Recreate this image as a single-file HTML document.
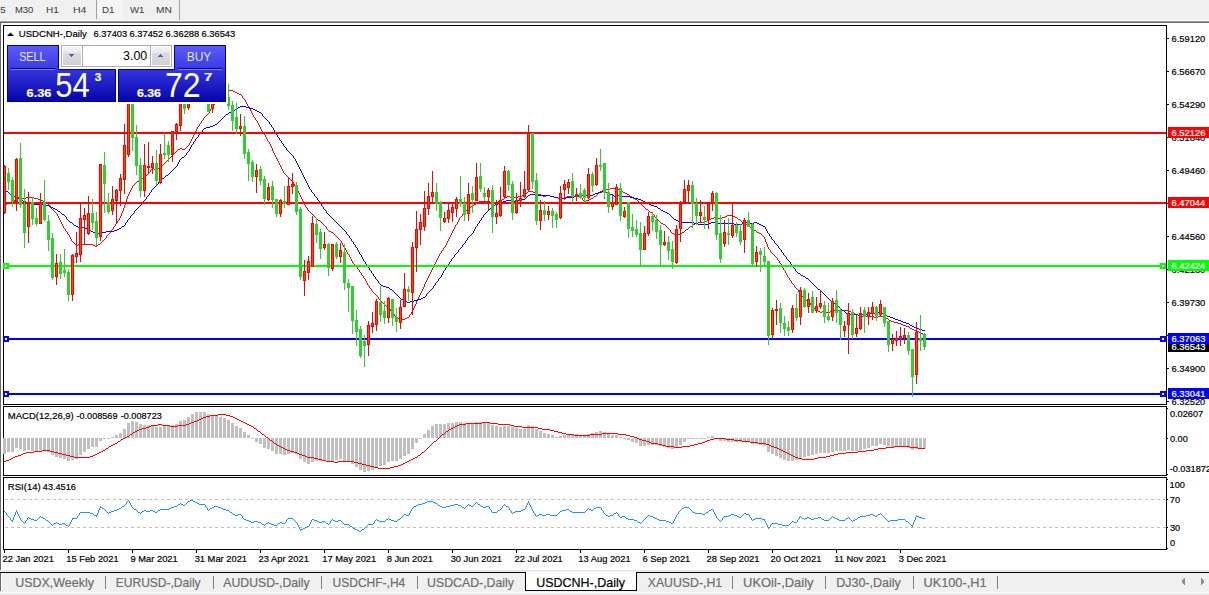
<!DOCTYPE html>
<html><head><meta charset="utf-8"><style>
html,body{margin:0;padding:0;width:1209px;height:595px;overflow:hidden;background:#f0f0f0}
svg{display:block}
text{font-family:"Liberation Sans", sans-serif;white-space:pre}
</style></head><body>
<svg width="1209" height="595" viewBox="0 0 1209 595">
<rect x="0" y="0" width="1209" height="595" fill="#f0f0f0"/>
<rect x="0" y="20" width="1209" height="1" fill="#f7f7f7"/>
<rect x="0" y="21" width="1209" height="1" fill="#a0a0a0"/>
<rect x="0" y="22" width="1209" height="1" fill="#696969"/>
<rect x="1" y="23" width="1208" height="547" fill="#ffffff"/>
<rect x="0" y="22" width="1" height="548" fill="#696969"/>
<rect x="97" y="0" width="25" height="19" fill="url(#chk)"/>
<rect x="96" y="0" width="1" height="19" fill="#a0a0a0"/>
<rect x="179" y="0" width="1" height="20" fill="#a0a0a0"/>
<text transform="translate(0.32,13) scale(0.9680,1)" font-size="9.9px" fill="#383838">5</text>
<text transform="translate(14.94,13) scale(0.9604,1)" font-size="9.9px" fill="#383838">M30</text>
<text transform="translate(45.89,13) scale(1.0189,1)" font-size="9.9px" fill="#383838">H1</text>
<text transform="translate(72.96,13) scale(1.0619,1)" font-size="9.9px" fill="#383838">H4</text>
<text transform="translate(101.91,13) scale(0.9925,1)" font-size="9.9px" fill="#383838">D1</text>
<text transform="translate(130.00,13) scale(0.9753,1)" font-size="9.9px" fill="#383838">W1</text>
<text transform="translate(155.98,13) scale(1.0319,1)" font-size="9.9px" fill="#383838">MN</text>
<rect x="3" y="25" width="1164" height="1" fill="#000"/>
<rect x="3" y="404" width="1164" height="1" fill="#000"/>
<rect x="3" y="25" width="1" height="380" fill="#000"/>
<rect x="1166" y="25" width="1" height="380" fill="#000"/>
<rect x="3" y="406" width="1164" height="1" fill="#000"/>
<rect x="3" y="475" width="1164" height="1" fill="#000"/>
<rect x="3" y="406" width="1" height="70" fill="#000"/>
<rect x="1166" y="406" width="1" height="70" fill="#000"/>
<rect x="3" y="477" width="1164" height="1" fill="#000"/>
<rect x="3" y="549" width="1164" height="1" fill="#000"/>
<rect x="3" y="477" width="1" height="73" fill="#000"/>
<rect x="1166" y="477" width="1" height="73" fill="#000"/>
<path d="M227 90h6v1h-6zM225 91h2v1h-2zM233 91h2v1h-2zM224 92h1v1h-1zM235 92h2v1h-2zM223 93h1v1h-1zM237 93h2v1h-2zM222 94h1v1h-1zM239 94h2v1h-2zM221 95h1v1h-1zM241 95h1v1h-1zM220 96h1v1h-1zM242 96h1v1h-1zM219 97h1v1h-1zM242 97h1v1h-1zM218 98h1v1h-1zM243 98h1v1h-1zM218 99h1v1h-1zM244 99h1v1h-1zM217 100h1v1h-1zM245 100h1v1h-1zM216 101h1v1h-1zM245 101h1v1h-1zM215 102h1v1h-1zM246 102h1v1h-1zM214 103h1v1h-1zM246 103h1v1h-1zM214 104h1v1h-1zM247 104h1v1h-1zM213 105h1v1h-1zM247 105h1v1h-1zM212 106h1v1h-1zM248 106h1v1h-1zM211 107h1v1h-1zM249 107h1v1h-1zM211 108h1v1h-1zM249 108h1v1h-1zM210 109h1v1h-1zM250 109h1v1h-1zM210 110h1v1h-1zM250 110h1v1h-1zM209 111h1v1h-1zM251 111h1v1h-1zM209 112h1v1h-1zM251 112h1v1h-1zM208 113h1v1h-1zM252 113h1v1h-1zM207 114h1v1h-1zM252 114h1v1h-1zM206 115h1v1h-1zM253 115h1v1h-1zM205 116h1v1h-1zM253 116h1v1h-1zM204 117h1v1h-1zM254 117h1v1h-1zM203 118h1v1h-1zM255 118h1v1h-1zM203 119h1v1h-1zM255 119h1v1h-1zM202 120h1v1h-1zM256 120h1v1h-1zM201 121h1v1h-1zM257 121h1v1h-1zM201 122h1v1h-1zM257 122h1v1h-1zM200 123h1v1h-1zM258 123h1v1h-1zM199 124h1v1h-1zM258 124h1v1h-1zM199 125h1v1h-1zM259 125h1v1h-1zM198 126h1v1h-1zM259 126h1v1h-1zM197 127h1v1h-1zM260 127h1v1h-1zM197 128h1v1h-1zM260 128h1v1h-1zM196 129h1v1h-1zM261 129h1v1h-1zM196 130h1v1h-1zM261 130h1v1h-1zM195 131h1v1h-1zM262 131h1v1h-1zM195 132h1v1h-1zM263 132h1v1h-1zM194 133h1v1h-1zM263 133h1v1h-1zM194 134h1v1h-1zM264 134h1v1h-1zM193 135h1v1h-1zM265 135h1v1h-1zM193 136h1v1h-1zM265 136h1v1h-1zM192 137h1v1h-1zM266 137h1v1h-1zM192 138h1v1h-1zM266 138h1v1h-1zM191 139h1v1h-1zM267 139h1v1h-1zM191 140h1v1h-1zM267 140h1v1h-1zM190 141h1v1h-1zM268 141h1v1h-1zM190 142h1v1h-1zM269 142h1v1h-1zM189 143h1v1h-1zM269 143h1v1h-1zM189 144h1v1h-1zM270 144h1v1h-1zM188 145h1v1h-1zM270 145h1v1h-1zM187 146h1v1h-1zM271 146h1v1h-1zM186 147h1v1h-1zM271 147h1v1h-1zM180 148h2v1h-2zM185 148h1v1h-1zM272 148h1v1h-1zM178 149h2v1h-2zM182 149h3v1h-3zM272 149h1v1h-1zM177 150h1v1h-1zM272 150h1v1h-1zM176 151h1v1h-1zM273 151h1v1h-1zM175 152h1v1h-1zM273 152h1v1h-1zM174 153h1v1h-1zM274 153h1v1h-1zM173 154h1v1h-1zM274 154h1v1h-1zM172 155h1v1h-1zM275 155h1v1h-1zM171 156h1v1h-1zM275 156h1v1h-1zM170 157h1v1h-1zM276 157h1v1h-1zM169 158h1v1h-1zM276 158h1v1h-1zM168 159h1v1h-1zM277 159h1v1h-1zM167 160h1v1h-1zM277 160h1v1h-1zM166 161h1v1h-1zM278 161h1v1h-1zM165 162h1v1h-1zM278 162h1v1h-1zM164 163h1v1h-1zM279 163h1v1h-1zM163 164h1v1h-1zM279 164h1v1h-1zM162 165h1v1h-1zM280 165h1v1h-1zM161 166h1v1h-1zM280 166h1v1h-1zM159 167h2v1h-2zM281 167h1v1h-1zM152 168h2v1h-2zM157 168h2v1h-2zM281 168h1v1h-1zM151 169h1v1h-1zM154 169h3v1h-3zM282 169h1v1h-1zM150 170h1v1h-1zM282 170h1v1h-1zM150 171h1v1h-1zM283 171h1v1h-1zM149 172h1v1h-1zM283 172h1v1h-1zM148 173h1v1h-1zM284 173h1v1h-1zM147 174h1v1h-1zM285 174h1v1h-1zM146 175h1v1h-1zM286 175h1v1h-1zM145 176h1v1h-1zM287 176h1v1h-1zM144 177h1v1h-1zM288 177h1v1h-1zM142 178h2v1h-2zM289 178h1v1h-1zM141 179h1v1h-1zM290 179h1v1h-1zM139 180h2v1h-2zM291 180h1v1h-1zM137 181h2v1h-2zM292 181h1v1h-1zM136 182h1v1h-1zM293 182h1v1h-1zM135 183h1v1h-1zM293 183h1v1h-1zM134 184h1v1h-1zM294 184h1v1h-1zM133 185h1v1h-1zM294 185h1v1h-1zM132 186h1v1h-1zM295 186h1v1h-1zM132 187h1v1h-1zM295 187h1v1h-1zM131 188h1v1h-1zM296 188h1v1h-1zM610 188h7v1h-7zM131 189h1v1h-1zM297 189h1v1h-1zM606 189h4v1h-4zM617 189h2v1h-2zM130 190h1v1h-1zM297 190h1v1h-1zM602 190h4v1h-4zM619 190h2v1h-2zM130 191h1v1h-1zM298 191h1v1h-1zM528 191h5v1h-5zM600 191h2v1h-2zM621 191h2v1h-2zM129 192h1v1h-1zM298 192h1v1h-1zM527 192h1v1h-1zM533 192h2v1h-2zM599 192h1v1h-1zM623 192h2v1h-2zM129 193h1v1h-1zM299 193h1v1h-1zM526 193h1v1h-1zM535 193h3v1h-3zM598 193h1v1h-1zM625 193h2v1h-2zM128 194h1v1h-1zM299 194h1v1h-1zM525 194h1v1h-1zM538 194h3v1h-3zM597 194h1v1h-1zM627 194h2v1h-2zM128 195h1v1h-1zM300 195h1v1h-1zM522 195h3v1h-3zM541 195h2v1h-2zM546 195h4v1h-4zM596 195h1v1h-1zM629 195h1v1h-1zM127 196h1v1h-1zM300 196h1v1h-1zM507 196h3v1h-3zM518 196h4v1h-4zM543 196h3v1h-3zM550 196h4v1h-4zM567 196h14v1h-14zM594 196h2v1h-2zM630 196h2v1h-2zM18 197h4v1h-4zM26 197h8v1h-8zM127 197h1v1h-1zM301 197h1v1h-1zM505 197h2v1h-2zM510 197h8v1h-8zM554 197h4v1h-4zM565 197h2v1h-2zM581 197h1v1h-1zM593 197h1v1h-1zM632 197h1v1h-1zM16 198h2v1h-2zM22 198h4v1h-4zM34 198h4v1h-4zM127 198h1v1h-1zM301 198h1v1h-1zM504 198h1v1h-1zM558 198h7v1h-7zM582 198h1v1h-1zM591 198h2v1h-2zM633 198h2v1h-2zM15 199h1v1h-1zM38 199h3v1h-3zM126 199h1v1h-1zM302 199h1v1h-1zM502 199h2v1h-2zM582 199h1v1h-1zM589 199h2v1h-2zM635 199h2v1h-2zM14 200h1v1h-1zM41 200h2v1h-2zM126 200h1v1h-1zM302 200h1v1h-1zM501 200h1v1h-1zM583 200h1v1h-1zM586 200h3v1h-3zM637 200h1v1h-1zM14 201h1v1h-1zM43 201h2v1h-2zM126 201h1v1h-1zM303 201h1v1h-1zM479 201h11v1h-11zM498 201h3v1h-3zM584 201h2v1h-2zM638 201h1v1h-1zM13 202h1v1h-1zM45 202h1v1h-1zM125 202h1v1h-1zM303 202h1v1h-1zM477 202h2v1h-2zM490 202h8v1h-8zM639 202h1v1h-1zM7 203h6v1h-6zM46 203h2v1h-2zM125 203h1v1h-1zM304 203h1v1h-1zM476 203h1v1h-1zM640 203h1v1h-1zM5 204h2v1h-2zM48 204h1v1h-1zM125 204h1v1h-1zM304 204h1v1h-1zM474 204h2v1h-2zM641 204h1v1h-1zM4 205h1v1h-1zM49 205h1v1h-1zM124 205h1v1h-1zM305 205h1v1h-1zM473 205h1v1h-1zM642 205h1v1h-1zM50 206h1v1h-1zM124 206h1v1h-1zM305 206h1v1h-1zM471 206h2v1h-2zM643 206h1v1h-1zM50 207h1v1h-1zM124 207h1v1h-1zM306 207h1v1h-1zM469 207h2v1h-2zM644 207h1v1h-1zM51 208h1v1h-1zM123 208h1v1h-1zM307 208h1v1h-1zM468 208h1v1h-1zM645 208h1v1h-1zM52 209h1v1h-1zM123 209h1v1h-1zM307 209h1v1h-1zM467 209h1v1h-1zM646 209h2v1h-2zM53 210h1v1h-1zM123 210h1v1h-1zM308 210h1v1h-1zM466 210h1v1h-1zM648 210h1v1h-1zM54 211h1v1h-1zM122 211h1v1h-1zM309 211h1v1h-1zM465 211h1v1h-1zM649 211h1v1h-1zM55 212h1v1h-1zM122 212h1v1h-1zM310 212h1v1h-1zM464 212h1v1h-1zM650 212h2v1h-2zM56 213h1v1h-1zM121 213h1v1h-1zM311 213h1v1h-1zM463 213h1v1h-1zM652 213h1v1h-1zM57 214h1v1h-1zM121 214h1v1h-1zM312 214h1v1h-1zM462 214h1v1h-1zM653 214h1v1h-1zM57 215h1v1h-1zM121 215h1v1h-1zM313 215h1v1h-1zM462 215h1v1h-1zM654 215h1v1h-1zM727 215h6v1h-6zM58 216h1v1h-1zM120 216h1v1h-1zM314 216h1v1h-1zM461 216h1v1h-1zM654 216h1v1h-1zM725 216h2v1h-2zM733 216h2v1h-2zM58 217h1v1h-1zM120 217h1v1h-1zM315 217h1v1h-1zM460 217h1v1h-1zM655 217h1v1h-1zM714 217h4v1h-4zM722 217h3v1h-3zM735 217h2v1h-2zM59 218h1v1h-1zM119 218h1v1h-1zM316 218h1v1h-1zM459 218h1v1h-1zM656 218h1v1h-1zM711 218h3v1h-3zM718 218h4v1h-4zM737 218h1v1h-1zM59 219h1v1h-1zM119 219h1v1h-1zM317 219h1v1h-1zM459 219h1v1h-1zM657 219h1v1h-1zM709 219h2v1h-2zM738 219h2v1h-2zM60 220h1v1h-1zM118 220h1v1h-1zM318 220h2v1h-2zM458 220h1v1h-1zM658 220h1v1h-1zM707 220h2v1h-2zM740 220h1v1h-1zM60 221h1v1h-1zM117 221h1v1h-1zM320 221h1v1h-1zM458 221h1v1h-1zM659 221h1v1h-1zM705 221h2v1h-2zM741 221h1v1h-1zM61 222h1v1h-1zM117 222h1v1h-1zM321 222h1v1h-1zM457 222h1v1h-1zM660 222h1v1h-1zM698 222h7v1h-7zM742 222h2v1h-2zM61 223h1v1h-1zM116 223h1v1h-1zM322 223h1v1h-1zM457 223h1v1h-1zM661 223h2v1h-2zM695 223h3v1h-3zM744 223h1v1h-1zM62 224h1v1h-1zM115 224h1v1h-1zM323 224h1v1h-1zM456 224h1v1h-1zM663 224h2v1h-2zM693 224h2v1h-2zM745 224h2v1h-2zM62 225h1v1h-1zM115 225h1v1h-1zM324 225h1v1h-1zM455 225h1v1h-1zM665 225h1v1h-1zM692 225h1v1h-1zM747 225h2v1h-2zM63 226h1v1h-1zM114 226h1v1h-1zM325 226h1v1h-1zM455 226h1v1h-1zM666 226h1v1h-1zM690 226h2v1h-2zM749 226h1v1h-1zM63 227h1v1h-1zM113 227h1v1h-1zM326 227h1v1h-1zM454 227h1v1h-1zM667 227h1v1h-1zM689 227h1v1h-1zM750 227h2v1h-2zM64 228h1v1h-1zM113 228h1v1h-1zM326 228h1v1h-1zM454 228h1v1h-1zM668 228h1v1h-1zM688 228h1v1h-1zM752 228h1v1h-1zM65 229h1v1h-1zM112 229h1v1h-1zM327 229h1v1h-1zM453 229h1v1h-1zM669 229h1v1h-1zM686 229h2v1h-2zM753 229h1v1h-1zM65 230h1v1h-1zM111 230h1v1h-1zM328 230h1v1h-1zM453 230h1v1h-1zM670 230h1v1h-1zM685 230h1v1h-1zM754 230h2v1h-2zM66 231h1v1h-1zM110 231h1v1h-1zM329 231h2v1h-2zM452 231h1v1h-1zM670 231h1v1h-1zM684 231h1v1h-1zM756 231h1v1h-1zM67 232h1v1h-1zM110 232h1v1h-1zM331 232h2v1h-2zM452 232h1v1h-1zM671 232h1v1h-1zM682 232h2v1h-2zM757 232h2v1h-2zM67 233h1v1h-1zM109 233h1v1h-1zM333 233h1v1h-1zM451 233h1v1h-1zM672 233h2v1h-2zM681 233h1v1h-1zM759 233h2v1h-2zM68 234h1v1h-1zM108 234h1v1h-1zM334 234h1v1h-1zM451 234h1v1h-1zM674 234h7v1h-7zM761 234h1v1h-1zM69 235h1v1h-1zM107 235h1v1h-1zM335 235h1v1h-1zM450 235h1v1h-1zM762 235h1v1h-1zM69 236h1v1h-1zM106 236h1v1h-1zM336 236h1v1h-1zM450 236h1v1h-1zM763 236h1v1h-1zM70 237h1v1h-1zM106 237h1v1h-1zM337 237h1v1h-1zM449 237h1v1h-1zM764 237h1v1h-1zM70 238h1v1h-1zM105 238h1v1h-1zM338 238h1v1h-1zM449 238h1v1h-1zM764 238h1v1h-1zM71 239h1v1h-1zM104 239h1v1h-1zM339 239h1v1h-1zM448 239h1v1h-1zM765 239h1v1h-1zM71 240h1v1h-1zM103 240h1v1h-1zM340 240h1v1h-1zM448 240h1v1h-1zM765 240h1v1h-1zM72 241h1v1h-1zM102 241h1v1h-1zM341 241h1v1h-1zM447 241h1v1h-1zM765 241h1v1h-1zM73 242h1v1h-1zM101 242h1v1h-1zM341 242h1v1h-1zM447 242h1v1h-1zM766 242h1v1h-1zM74 243h1v1h-1zM100 243h1v1h-1zM342 243h1v1h-1zM446 243h1v1h-1zM766 243h1v1h-1zM75 244h1v1h-1zM78 244h15v1h-15zM98 244h2v1h-2zM342 244h1v1h-1zM446 244h1v1h-1zM767 244h1v1h-1zM76 245h2v1h-2zM93 245h2v1h-2zM97 245h1v1h-1zM343 245h1v1h-1zM445 245h1v1h-1zM767 245h1v1h-1zM95 246h2v1h-2zM343 246h1v1h-1zM445 246h1v1h-1zM767 246h1v1h-1zM344 247h1v1h-1zM444 247h1v1h-1zM768 247h1v1h-1zM345 248h1v1h-1zM443 248h1v1h-1zM768 248h1v1h-1zM345 249h1v1h-1zM443 249h1v1h-1zM769 249h1v1h-1zM346 250h1v1h-1zM442 250h1v1h-1zM770 250h1v1h-1zM346 251h1v1h-1zM441 251h1v1h-1zM770 251h1v1h-1zM347 252h1v1h-1zM441 252h1v1h-1zM771 252h1v1h-1zM347 253h1v1h-1zM440 253h1v1h-1zM772 253h1v1h-1zM348 254h1v1h-1zM439 254h1v1h-1zM773 254h1v1h-1zM349 255h1v1h-1zM439 255h1v1h-1zM774 255h1v1h-1zM349 256h1v1h-1zM438 256h1v1h-1zM775 256h1v1h-1zM350 257h1v1h-1zM438 257h1v1h-1zM776 257h1v1h-1zM350 258h1v1h-1zM437 258h1v1h-1zM777 258h1v1h-1zM351 259h1v1h-1zM437 259h1v1h-1zM777 259h1v1h-1zM351 260h1v1h-1zM436 260h1v1h-1zM778 260h1v1h-1zM352 261h1v1h-1zM436 261h1v1h-1zM779 261h1v1h-1zM352 262h1v1h-1zM435 262h1v1h-1zM779 262h1v1h-1zM353 263h1v1h-1zM435 263h1v1h-1zM780 263h1v1h-1zM354 264h1v1h-1zM434 264h1v1h-1zM781 264h1v1h-1zM355 265h1v1h-1zM434 265h1v1h-1zM781 265h1v1h-1zM356 266h1v1h-1zM433 266h1v1h-1zM782 266h1v1h-1zM357 267h1v1h-1zM433 267h1v1h-1zM782 267h1v1h-1zM357 268h1v1h-1zM432 268h1v1h-1zM783 268h1v1h-1zM358 269h1v1h-1zM432 269h1v1h-1zM783 269h1v1h-1zM359 270h1v1h-1zM431 270h1v1h-1zM784 270h1v1h-1zM359 271h1v1h-1zM431 271h1v1h-1zM785 271h1v1h-1zM360 272h1v1h-1zM430 272h1v1h-1zM785 272h1v1h-1zM361 273h1v1h-1zM430 273h1v1h-1zM786 273h1v1h-1zM361 274h1v1h-1zM429 274h1v1h-1zM786 274h1v1h-1zM362 275h1v1h-1zM429 275h1v1h-1zM787 275h1v1h-1zM363 276h1v1h-1zM428 276h1v1h-1zM787 276h1v1h-1zM363 277h1v1h-1zM428 277h1v1h-1zM788 277h1v1h-1zM364 278h1v1h-1zM427 278h1v1h-1zM789 278h1v1h-1zM365 279h1v1h-1zM427 279h1v1h-1zM789 279h1v1h-1zM365 280h1v1h-1zM426 280h1v1h-1zM790 280h1v1h-1zM366 281h1v1h-1zM426 281h1v1h-1zM791 281h1v1h-1zM366 282h1v1h-1zM425 282h1v1h-1zM791 282h1v1h-1zM367 283h1v1h-1zM425 283h1v1h-1zM792 283h1v1h-1zM367 284h1v1h-1zM424 284h1v1h-1zM793 284h1v1h-1zM368 285h1v1h-1zM424 285h1v1h-1zM794 285h1v1h-1zM369 286h1v1h-1zM424 286h1v1h-1zM794 286h1v1h-1zM369 287h1v1h-1zM423 287h1v1h-1zM795 287h1v1h-1zM370 288h1v1h-1zM423 288h1v1h-1zM796 288h1v1h-1zM371 289h1v1h-1zM422 289h1v1h-1zM797 289h1v1h-1zM371 290h1v1h-1zM422 290h1v1h-1zM798 290h1v1h-1zM372 291h1v1h-1zM421 291h1v1h-1zM798 291h1v1h-1zM373 292h1v1h-1zM421 292h1v1h-1zM799 292h1v1h-1zM374 293h1v1h-1zM420 293h1v1h-1zM800 293h1v1h-1zM375 294h1v1h-1zM420 294h1v1h-1zM801 294h1v1h-1zM376 295h1v1h-1zM419 295h1v1h-1zM801 295h1v1h-1zM377 296h1v1h-1zM419 296h1v1h-1zM802 296h1v1h-1zM378 297h1v1h-1zM418 297h1v1h-1zM803 297h1v1h-1zM378 298h1v1h-1zM418 298h1v1h-1zM803 298h1v1h-1zM379 299h1v1h-1zM417 299h1v1h-1zM804 299h1v1h-1zM380 300h1v1h-1zM417 300h1v1h-1zM805 300h2v1h-2zM381 301h1v1h-1zM416 301h1v1h-1zM807 301h2v1h-2zM382 302h1v1h-1zM416 302h1v1h-1zM809 302h1v1h-1zM383 303h1v1h-1zM416 303h1v1h-1zM810 303h1v1h-1zM384 304h1v1h-1zM415 304h1v1h-1zM810 304h1v1h-1zM385 305h1v1h-1zM415 305h1v1h-1zM811 305h1v1h-1zM386 306h2v1h-2zM414 306h1v1h-1zM812 306h1v1h-1zM388 307h1v1h-1zM414 307h1v1h-1zM813 307h1v1h-1zM389 308h1v1h-1zM413 308h1v1h-1zM814 308h2v1h-2zM390 309h1v1h-1zM413 309h1v1h-1zM816 309h1v1h-1zM390 310h1v1h-1zM412 310h1v1h-1zM817 310h1v1h-1zM834 310h15v1h-15zM391 311h1v1h-1zM412 311h1v1h-1zM818 311h2v1h-2zM822 311h4v1h-4zM830 311h4v1h-4zM849 311h2v1h-2zM392 312h1v1h-1zM411 312h1v1h-1zM820 312h2v1h-2zM826 312h4v1h-4zM851 312h2v1h-2zM393 313h1v1h-1zM411 313h1v1h-1zM853 313h2v1h-2zM394 314h1v1h-1zM410 314h1v1h-1zM855 314h3v1h-3zM394 315h1v1h-1zM409 315h1v1h-1zM858 315h4v1h-4zM395 316h1v1h-1zM409 316h1v1h-1zM862 316h12v1h-12zM878 316h7v1h-7zM396 317h1v1h-1zM407 317h2v1h-2zM874 317h4v1h-4zM885 317h1v1h-1zM397 318h2v1h-2zM405 318h2v1h-2zM886 318h2v1h-2zM399 319h6v1h-6zM888 319h1v1h-1zM889 320h2v1h-2zM891 321h3v1h-3zM894 322h4v1h-4zM898 323h3v1h-3zM901 324h2v1h-2zM903 325h3v1h-3zM906 326h3v1h-3zM909 327h1v1h-1zM910 328h2v1h-2zM912 329h2v1h-2zM914 330h3v1h-3zM917 331h2v1h-2zM919 332h2v1h-2zM921 333h2v1h-2zM923 334h2v1h-2z" fill="#ff0000" shape-rendering="crispEdges"/>
<path d="M240 106h6v1h-6zM238 107h2v1h-2zM246 107h4v1h-4zM237 108h1v1h-1zM250 108h3v1h-3zM235 109h2v1h-2zM253 109h2v1h-2zM233 110h2v1h-2zM255 110h2v1h-2zM231 111h2v1h-2zM257 111h2v1h-2zM229 112h2v1h-2zM259 112h2v1h-2zM228 113h1v1h-1zM261 113h1v1h-1zM226 114h2v1h-2zM262 114h1v1h-1zM225 115h1v1h-1zM262 115h1v1h-1zM224 116h1v1h-1zM263 116h1v1h-1zM223 117h1v1h-1zM264 117h1v1h-1zM222 118h1v1h-1zM265 118h1v1h-1zM221 119h1v1h-1zM266 119h1v1h-1zM220 120h1v1h-1zM267 120h1v1h-1zM219 121h1v1h-1zM268 121h1v1h-1zM218 122h1v1h-1zM269 122h1v1h-1zM217 123h1v1h-1zM269 123h1v1h-1zM215 124h2v1h-2zM270 124h1v1h-1zM213 125h2v1h-2zM271 125h1v1h-1zM210 126h3v1h-3zM271 126h1v1h-1zM206 127h4v1h-4zM272 127h1v1h-1zM204 128h2v1h-2zM273 128h1v1h-1zM203 129h1v1h-1zM273 129h1v1h-1zM202 130h1v1h-1zM274 130h1v1h-1zM202 131h1v1h-1zM274 131h1v1h-1zM201 132h1v1h-1zM275 132h1v1h-1zM200 133h1v1h-1zM275 133h1v1h-1zM199 134h1v1h-1zM276 134h1v1h-1zM198 135h1v1h-1zM277 135h1v1h-1zM198 136h1v1h-1zM277 136h1v1h-1zM197 137h1v1h-1zM278 137h1v1h-1zM196 138h1v1h-1zM279 138h1v1h-1zM195 139h1v1h-1zM279 139h1v1h-1zM195 140h1v1h-1zM280 140h1v1h-1zM194 141h1v1h-1zM281 141h1v1h-1zM193 142h1v1h-1zM281 142h1v1h-1zM193 143h1v1h-1zM282 143h1v1h-1zM192 144h1v1h-1zM283 144h1v1h-1zM191 145h1v1h-1zM283 145h1v1h-1zM191 146h1v1h-1zM284 146h1v1h-1zM190 147h1v1h-1zM285 147h1v1h-1zM190 148h1v1h-1zM286 148h1v1h-1zM189 149h1v1h-1zM286 149h1v1h-1zM189 150h1v1h-1zM287 150h1v1h-1zM188 151h1v1h-1zM288 151h1v1h-1zM187 152h1v1h-1zM289 152h1v1h-1zM186 153h1v1h-1zM290 153h1v1h-1zM186 154h1v1h-1zM291 154h1v1h-1zM185 155h1v1h-1zM292 155h1v1h-1zM184 156h1v1h-1zM293 156h1v1h-1zM182 157h2v1h-2zM293 157h1v1h-1zM181 158h1v1h-1zM294 158h1v1h-1zM180 159h1v1h-1zM295 159h1v1h-1zM179 160h1v1h-1zM295 160h1v1h-1zM179 161h1v1h-1zM296 161h1v1h-1zM178 162h1v1h-1zM296 162h1v1h-1zM178 163h1v1h-1zM297 163h1v1h-1zM177 164h1v1h-1zM297 164h1v1h-1zM177 165h1v1h-1zM298 165h1v1h-1zM176 166h1v1h-1zM298 166h1v1h-1zM175 167h1v1h-1zM299 167h1v1h-1zM174 168h1v1h-1zM299 168h1v1h-1zM173 169h1v1h-1zM300 169h1v1h-1zM172 170h1v1h-1zM300 170h1v1h-1zM171 171h1v1h-1zM301 171h1v1h-1zM170 172h1v1h-1zM301 172h1v1h-1zM169 173h1v1h-1zM302 173h1v1h-1zM168 174h1v1h-1zM302 174h1v1h-1zM166 175h2v1h-2zM303 175h1v1h-1zM165 176h1v1h-1zM303 176h1v1h-1zM164 177h1v1h-1zM304 177h1v1h-1zM162 178h2v1h-2zM304 178h1v1h-1zM161 179h1v1h-1zM305 179h1v1h-1zM160 180h1v1h-1zM305 180h1v1h-1zM159 181h1v1h-1zM306 181h1v1h-1zM158 182h1v1h-1zM306 182h1v1h-1zM158 183h1v1h-1zM307 183h1v1h-1zM157 184h1v1h-1zM307 184h1v1h-1zM156 185h1v1h-1zM308 185h1v1h-1zM155 186h1v1h-1zM308 186h1v1h-1zM154 187h1v1h-1zM309 187h1v1h-1zM153 188h1v1h-1zM309 188h1v1h-1zM4 189h1v1h-1zM152 189h1v1h-1zM310 189h1v1h-1zM5 190h1v1h-1zM151 190h1v1h-1zM311 190h1v1h-1zM6 191h2v1h-2zM151 191h1v1h-1zM311 191h1v1h-1zM602 191h4v1h-4zM8 192h1v1h-1zM150 192h1v1h-1zM312 192h1v1h-1zM598 192h4v1h-4zM606 192h3v1h-3zM9 193h1v1h-1zM149 193h1v1h-1zM313 193h1v1h-1zM595 193h3v1h-3zM609 193h1v1h-1zM10 194h1v1h-1zM149 194h1v1h-1zM314 194h1v1h-1zM530 194h8v1h-8zM593 194h2v1h-2zM610 194h2v1h-2zM11 195h1v1h-1zM148 195h1v1h-1zM314 195h1v1h-1zM528 195h2v1h-2zM538 195h12v1h-12zM578 195h15v1h-15zM612 195h2v1h-2zM618 195h4v1h-4zM12 196h5v1h-5zM147 196h1v1h-1zM315 196h1v1h-1zM527 196h1v1h-1zM550 196h4v1h-4zM574 196h4v1h-4zM614 196h4v1h-4zM622 196h8v1h-8zM17 197h1v1h-1zM146 197h1v1h-1zM316 197h1v1h-1zM526 197h1v1h-1zM554 197h4v1h-4zM566 197h8v1h-8zM630 197h4v1h-4zM18 198h2v1h-2zM146 198h1v1h-1zM317 198h1v1h-1zM525 198h1v1h-1zM558 198h8v1h-8zM634 198h4v1h-4zM20 199h1v1h-1zM145 199h1v1h-1zM317 199h1v1h-1zM522 199h3v1h-3zM638 199h3v1h-3zM21 200h2v1h-2zM144 200h1v1h-1zM318 200h1v1h-1zM506 200h8v1h-8zM518 200h4v1h-4zM641 200h2v1h-2zM23 201h3v1h-3zM143 201h1v1h-1zM319 201h1v1h-1zM503 201h3v1h-3zM514 201h4v1h-4zM643 201h2v1h-2zM26 202h4v1h-4zM142 202h1v1h-1zM319 202h1v1h-1zM501 202h2v1h-2zM645 202h2v1h-2zM30 203h4v1h-4zM142 203h1v1h-1zM320 203h1v1h-1zM498 203h3v1h-3zM647 203h2v1h-2zM34 204h12v1h-12zM141 204h1v1h-1zM321 204h1v1h-1zM495 204h3v1h-3zM649 204h2v1h-2zM46 205h3v1h-3zM140 205h1v1h-1zM321 205h1v1h-1zM493 205h2v1h-2zM651 205h3v1h-3zM49 206h2v1h-2zM139 206h1v1h-1zM322 206h1v1h-1zM492 206h1v1h-1zM654 206h3v1h-3zM51 207h2v1h-2zM138 207h1v1h-1zM323 207h1v1h-1zM491 207h1v1h-1zM657 207h1v1h-1zM53 208h2v1h-2zM137 208h1v1h-1zM323 208h1v1h-1zM490 208h1v1h-1zM658 208h2v1h-2zM55 209h2v1h-2zM136 209h1v1h-1zM324 209h1v1h-1zM489 209h1v1h-1zM660 209h1v1h-1zM57 210h1v1h-1zM135 210h1v1h-1zM325 210h1v1h-1zM488 210h1v1h-1zM661 210h2v1h-2zM58 211h2v1h-2zM134 211h1v1h-1zM326 211h1v1h-1zM487 211h1v1h-1zM663 211h2v1h-2zM60 212h1v1h-1zM134 212h1v1h-1zM326 212h1v1h-1zM486 212h1v1h-1zM665 212h2v1h-2zM61 213h1v1h-1zM133 213h1v1h-1zM327 213h1v1h-1zM485 213h1v1h-1zM667 213h2v1h-2zM62 214h2v1h-2zM132 214h1v1h-1zM328 214h1v1h-1zM484 214h1v1h-1zM669 214h1v1h-1zM64 215h1v1h-1zM131 215h1v1h-1zM329 215h1v1h-1zM483 215h1v1h-1zM670 215h1v1h-1zM65 216h1v1h-1zM130 216h1v1h-1zM330 216h1v1h-1zM483 216h1v1h-1zM671 216h1v1h-1zM66 217h1v1h-1zM130 217h1v1h-1zM331 217h1v1h-1zM482 217h1v1h-1zM672 217h1v1h-1zM66 218h1v1h-1zM129 218h1v1h-1zM332 218h1v1h-1zM481 218h1v1h-1zM673 218h1v1h-1zM67 219h1v1h-1zM128 219h1v1h-1zM333 219h1v1h-1zM481 219h1v1h-1zM674 219h2v1h-2zM68 220h1v1h-1zM127 220h1v1h-1zM334 220h1v1h-1zM480 220h1v1h-1zM676 220h2v1h-2zM69 221h1v1h-1zM127 221h1v1h-1zM335 221h1v1h-1zM479 221h1v1h-1zM678 221h4v1h-4zM70 222h2v1h-2zM126 222h1v1h-1zM336 222h1v1h-1zM479 222h1v1h-1zM682 222h12v1h-12zM711 222h7v1h-7zM746 222h4v1h-4zM754 222h3v1h-3zM72 223h1v1h-1zM125 223h1v1h-1zM337 223h1v1h-1zM478 223h1v1h-1zM694 223h4v1h-4zM709 223h2v1h-2zM718 223h16v1h-16zM742 223h4v1h-4zM750 223h4v1h-4zM757 223h2v1h-2zM73 224h1v1h-1zM125 224h1v1h-1zM338 224h1v1h-1zM477 224h1v1h-1zM698 224h11v1h-11zM734 224h8v1h-8zM759 224h2v1h-2zM74 225h2v1h-2zM124 225h1v1h-1zM339 225h1v1h-1zM477 225h1v1h-1zM761 225h2v1h-2zM76 226h2v1h-2zM122 226h2v1h-2zM340 226h1v1h-1zM476 226h1v1h-1zM763 226h2v1h-2zM78 227h7v1h-7zM121 227h1v1h-1zM341 227h1v1h-1zM475 227h1v1h-1zM765 227h1v1h-1zM85 228h2v1h-2zM119 228h2v1h-2zM342 228h1v1h-1zM475 228h1v1h-1zM765 228h1v1h-1zM87 229h2v1h-2zM117 229h2v1h-2zM343 229h1v1h-1zM474 229h1v1h-1zM766 229h1v1h-1zM89 230h2v1h-2zM114 230h3v1h-3zM344 230h1v1h-1zM474 230h1v1h-1zM766 230h1v1h-1zM91 231h2v1h-2zM106 231h8v1h-8zM345 231h1v1h-1zM473 231h1v1h-1zM767 231h1v1h-1zM93 232h2v1h-2zM102 232h4v1h-4zM346 232h1v1h-1zM473 232h1v1h-1zM767 232h1v1h-1zM95 233h7v1h-7zM346 233h1v1h-1zM472 233h1v1h-1zM768 233h1v1h-1zM347 234h1v1h-1zM471 234h1v1h-1zM769 234h1v1h-1zM348 235h1v1h-1zM470 235h1v1h-1zM769 235h1v1h-1zM349 236h1v1h-1zM469 236h1v1h-1zM770 236h1v1h-1zM349 237h1v1h-1zM468 237h1v1h-1zM771 237h1v1h-1zM350 238h1v1h-1zM467 238h1v1h-1zM771 238h1v1h-1zM351 239h1v1h-1zM467 239h1v1h-1zM772 239h1v1h-1zM351 240h1v1h-1zM466 240h1v1h-1zM773 240h1v1h-1zM352 241h1v1h-1zM465 241h1v1h-1zM774 241h1v1h-1zM353 242h1v1h-1zM465 242h1v1h-1zM774 242h1v1h-1zM353 243h1v1h-1zM464 243h1v1h-1zM775 243h1v1h-1zM354 244h1v1h-1zM463 244h1v1h-1zM776 244h1v1h-1zM355 245h1v1h-1zM462 245h1v1h-1zM777 245h1v1h-1zM355 246h1v1h-1zM462 246h1v1h-1zM778 246h1v1h-1zM356 247h1v1h-1zM461 247h1v1h-1zM778 247h1v1h-1zM357 248h1v1h-1zM460 248h1v1h-1zM779 248h1v1h-1zM357 249h1v1h-1zM459 249h1v1h-1zM780 249h1v1h-1zM358 250h1v1h-1zM458 250h1v1h-1zM781 250h1v1h-1zM358 251h1v1h-1zM458 251h1v1h-1zM781 251h1v1h-1zM359 252h1v1h-1zM457 252h1v1h-1zM782 252h1v1h-1zM359 253h1v1h-1zM456 253h1v1h-1zM783 253h1v1h-1zM360 254h1v1h-1zM455 254h1v1h-1zM783 254h1v1h-1zM361 255h1v1h-1zM454 255h1v1h-1zM784 255h1v1h-1zM361 256h1v1h-1zM454 256h1v1h-1zM785 256h1v1h-1zM362 257h1v1h-1zM453 257h1v1h-1zM786 257h1v1h-1zM362 258h1v1h-1zM452 258h1v1h-1zM786 258h1v1h-1zM363 259h1v1h-1zM451 259h1v1h-1zM787 259h1v1h-1zM363 260h1v1h-1zM451 260h1v1h-1zM788 260h1v1h-1zM364 261h1v1h-1zM450 261h1v1h-1zM789 261h1v1h-1zM365 262h1v1h-1zM449 262h1v1h-1zM790 262h1v1h-1zM365 263h1v1h-1zM449 263h1v1h-1zM790 263h1v1h-1zM366 264h1v1h-1zM448 264h1v1h-1zM791 264h1v1h-1zM367 265h1v1h-1zM447 265h1v1h-1zM792 265h1v1h-1zM367 266h1v1h-1zM447 266h1v1h-1zM793 266h1v1h-1zM368 267h1v1h-1zM446 267h1v1h-1zM793 267h1v1h-1zM369 268h1v1h-1zM445 268h1v1h-1zM794 268h1v1h-1zM369 269h1v1h-1zM445 269h1v1h-1zM795 269h1v1h-1zM370 270h1v1h-1zM444 270h1v1h-1zM795 270h1v1h-1zM371 271h1v1h-1zM443 271h1v1h-1zM796 271h1v1h-1zM371 272h1v1h-1zM443 272h1v1h-1zM797 272h1v1h-1zM372 273h1v1h-1zM442 273h1v1h-1zM798 273h2v1h-2zM373 274h1v1h-1zM442 274h1v1h-1zM800 274h1v1h-1zM373 275h1v1h-1zM441 275h1v1h-1zM801 275h2v1h-2zM374 276h1v1h-1zM441 276h1v1h-1zM803 276h2v1h-2zM375 277h1v1h-1zM440 277h1v1h-1zM805 277h1v1h-1zM375 278h1v1h-1zM439 278h1v1h-1zM806 278h2v1h-2zM376 279h1v1h-1zM438 279h1v1h-1zM808 279h1v1h-1zM377 280h1v1h-1zM438 280h1v1h-1zM809 280h1v1h-1zM378 281h1v1h-1zM437 281h1v1h-1zM810 281h1v1h-1zM378 282h1v1h-1zM436 282h1v1h-1zM811 282h1v1h-1zM379 283h1v1h-1zM435 283h1v1h-1zM812 283h1v1h-1zM380 284h1v1h-1zM435 284h1v1h-1zM813 284h1v1h-1zM381 285h2v1h-2zM434 285h1v1h-1zM814 285h1v1h-1zM383 286h3v1h-3zM433 286h1v1h-1zM815 286h1v1h-1zM386 287h3v1h-3zM433 287h1v1h-1zM816 287h1v1h-1zM389 288h1v1h-1zM432 288h1v1h-1zM817 288h1v1h-1zM390 289h2v1h-2zM431 289h1v1h-1zM818 289h2v1h-2zM392 290h1v1h-1zM430 290h1v1h-1zM820 290h1v1h-1zM393 291h1v1h-1zM429 291h1v1h-1zM821 291h1v1h-1zM394 292h1v1h-1zM428 292h1v1h-1zM822 292h1v1h-1zM395 293h1v1h-1zM427 293h1v1h-1zM823 293h1v1h-1zM396 294h1v1h-1zM426 294h1v1h-1zM824 294h1v1h-1zM397 295h1v1h-1zM426 295h1v1h-1zM825 295h1v1h-1zM398 296h1v1h-1zM425 296h1v1h-1zM826 296h1v1h-1zM399 297h1v1h-1zM423 297h2v1h-2zM827 297h1v1h-1zM400 298h1v1h-1zM421 298h2v1h-2zM828 298h1v1h-1zM401 299h2v1h-2zM418 299h3v1h-3zM829 299h1v1h-1zM403 300h2v1h-2zM414 300h4v1h-4zM830 300h1v1h-1zM405 301h2v1h-2zM410 301h4v1h-4zM831 301h1v1h-1zM407 302h3v1h-3zM832 302h1v1h-1zM833 303h2v1h-2zM835 304h2v1h-2zM837 305h1v1h-1zM838 306h1v1h-1zM839 307h1v1h-1zM840 308h1v1h-1zM841 309h1v1h-1zM842 310h2v1h-2zM844 311h1v1h-1zM845 312h1v1h-1zM878 312h3v1h-3zM846 313h2v1h-2zM870 313h8v1h-8zM881 313h2v1h-2zM848 314h10v1h-10zM862 314h8v1h-8zM883 314h2v1h-2zM858 315h4v1h-4zM885 315h2v1h-2zM887 316h3v1h-3zM890 317h3v1h-3zM893 318h2v1h-2zM895 319h3v1h-3zM898 320h3v1h-3zM901 321h2v1h-2zM903 322h3v1h-3zM906 323h3v1h-3zM909 324h1v1h-1zM910 325h2v1h-2zM912 326h2v1h-2zM914 327h3v1h-3zM917 328h2v1h-2zM919 329h3v1h-3zM922 330h3v1h-3z" fill="#0000ff" shape-rendering="crispEdges"/>
<defs><clipPath id="cm"><rect x="4" y="26" width="1162" height="378"/></clipPath></defs>
<g shape-rendering="crispEdges" clip-path="url(#cm)">
<rect x="4" y="132" width="1162" height="2" fill="#ff0000"/>
<rect x="4" y="202" width="1162" height="2" fill="#ff0000"/>
<rect x="4" y="265" width="1162" height="2" fill="#00ff00"/>
<rect x="4" y="338" width="1162" height="2" fill="#0000ff"/>
<rect x="4" y="393" width="1162" height="2" fill="#0000ff"/>
<rect x="4" y="165" width="1" height="49" fill="#ff0000"/>
<rect x="3" y="166" width="3" height="47" fill="#ff0000"/>
<rect x="4" y="167" width="1" height="45" fill="#ff4500"/>
<rect x="8" y="168" width="1" height="22" fill="#32cd32"/>
<rect x="7" y="173" width="3" height="9" fill="#32cd32"/>
<rect x="12" y="177" width="1" height="30" fill="#32cd32"/>
<rect x="11" y="180" width="3" height="22" fill="#32cd32"/>
<rect x="16" y="158" width="1" height="53" fill="#ff0000"/>
<rect x="15" y="159" width="3" height="43" fill="#ff0000"/>
<rect x="16" y="160" width="1" height="41" fill="#ff4500"/>
<rect x="20" y="143" width="1" height="65" fill="#32cd32"/>
<rect x="19" y="158" width="3" height="47" fill="#32cd32"/>
<rect x="24" y="189" width="1" height="59" fill="#32cd32"/>
<rect x="23" y="204" width="3" height="29" fill="#32cd32"/>
<rect x="28" y="192" width="1" height="51" fill="#ff0000"/>
<rect x="27" y="203" width="3" height="24" fill="#ff0000"/>
<rect x="28" y="204" width="1" height="22" fill="#ff4500"/>
<rect x="32" y="197" width="1" height="28" fill="#32cd32"/>
<rect x="31" y="202" width="3" height="17" fill="#32cd32"/>
<rect x="36" y="208" width="1" height="18" fill="#32cd32"/>
<rect x="35" y="218" width="3" height="6" fill="#32cd32"/>
<rect x="40" y="193" width="1" height="31" fill="#ff0000"/>
<rect x="39" y="203" width="3" height="21" fill="#ff0000"/>
<rect x="40" y="204" width="1" height="19" fill="#ff4500"/>
<rect x="44" y="180" width="1" height="41" fill="#32cd32"/>
<rect x="43" y="202" width="3" height="18" fill="#32cd32"/>
<rect x="48" y="215" width="1" height="36" fill="#32cd32"/>
<rect x="47" y="221" width="3" height="19" fill="#32cd32"/>
<rect x="52" y="233" width="1" height="47" fill="#32cd32"/>
<rect x="51" y="238" width="3" height="40" fill="#32cd32"/>
<rect x="56" y="254" width="1" height="31" fill="#ff0000"/>
<rect x="55" y="263" width="3" height="14" fill="#ff0000"/>
<rect x="56" y="264" width="1" height="12" fill="#ff4500"/>
<rect x="60" y="254" width="1" height="25" fill="#32cd32"/>
<rect x="59" y="262" width="3" height="12" fill="#32cd32"/>
<rect x="64" y="249" width="1" height="28" fill="#32cd32"/>
<rect x="63" y="270" width="3" height="3" fill="#32cd32"/>
<rect x="68" y="269" width="1" height="32" fill="#32cd32"/>
<rect x="67" y="272" width="3" height="23" fill="#32cd32"/>
<rect x="72" y="254" width="1" height="47" fill="#ff0000"/>
<rect x="71" y="255" width="3" height="40" fill="#ff0000"/>
<rect x="72" y="256" width="1" height="38" fill="#ff4500"/>
<rect x="76" y="232" width="1" height="31" fill="#ff0000"/>
<rect x="75" y="253" width="3" height="4" fill="#ff0000"/>
<rect x="76" y="254" width="1" height="2" fill="#ff4500"/>
<rect x="80" y="203" width="1" height="59" fill="#ff0000"/>
<rect x="79" y="218" width="3" height="37" fill="#ff0000"/>
<rect x="80" y="219" width="1" height="35" fill="#ff4500"/>
<rect x="84" y="208" width="1" height="36" fill="#ff0000"/>
<rect x="83" y="215" width="3" height="5" fill="#ff0000"/>
<rect x="84" y="216" width="1" height="3" fill="#ff4500"/>
<rect x="88" y="196" width="1" height="39" fill="#ff0000"/>
<rect x="87" y="213" width="3" height="21" fill="#ff0000"/>
<rect x="88" y="214" width="1" height="19" fill="#ff4500"/>
<rect x="92" y="199" width="1" height="31" fill="#32cd32"/>
<rect x="91" y="213" width="3" height="10" fill="#32cd32"/>
<rect x="96" y="212" width="1" height="34" fill="#32cd32"/>
<rect x="95" y="221" width="3" height="17" fill="#32cd32"/>
<rect x="100" y="164" width="1" height="77" fill="#ff0000"/>
<rect x="99" y="164" width="3" height="73" fill="#ff0000"/>
<rect x="100" y="165" width="1" height="71" fill="#ff4500"/>
<rect x="104" y="152" width="1" height="61" fill="#32cd32"/>
<rect x="103" y="165" width="3" height="19" fill="#32cd32"/>
<rect x="108" y="193" width="1" height="21" fill="#32cd32"/>
<rect x="107" y="202" width="3" height="10" fill="#32cd32"/>
<rect x="112" y="186" width="1" height="29" fill="#ff0000"/>
<rect x="111" y="199" width="3" height="12" fill="#ff0000"/>
<rect x="112" y="200" width="1" height="10" fill="#ff4500"/>
<rect x="116" y="189" width="1" height="34" fill="#ff0000"/>
<rect x="115" y="190" width="3" height="11" fill="#ff0000"/>
<rect x="116" y="191" width="1" height="9" fill="#ff4500"/>
<rect x="120" y="174" width="1" height="32" fill="#ff0000"/>
<rect x="119" y="178" width="3" height="13" fill="#ff0000"/>
<rect x="120" y="179" width="1" height="11" fill="#ff4500"/>
<rect x="124" y="124" width="1" height="70" fill="#ff0000"/>
<rect x="123" y="145" width="3" height="35" fill="#ff0000"/>
<rect x="124" y="146" width="1" height="33" fill="#ff4500"/>
<rect x="128" y="88" width="1" height="69" fill="#ff0000"/>
<rect x="127" y="92" width="3" height="63" fill="#ff0000"/>
<rect x="128" y="93" width="1" height="61" fill="#ff4500"/>
<rect x="132" y="88" width="1" height="63" fill="#32cd32"/>
<rect x="131" y="92" width="3" height="46" fill="#32cd32"/>
<rect x="136" y="125" width="1" height="50" fill="#32cd32"/>
<rect x="135" y="137" width="3" height="29" fill="#32cd32"/>
<rect x="140" y="158" width="1" height="39" fill="#32cd32"/>
<rect x="139" y="165" width="3" height="26" fill="#32cd32"/>
<rect x="144" y="144" width="1" height="53" fill="#ff0000"/>
<rect x="143" y="165" width="3" height="26" fill="#ff0000"/>
<rect x="144" y="166" width="1" height="24" fill="#ff4500"/>
<rect x="148" y="142" width="1" height="32" fill="#ff0000"/>
<rect x="147" y="166" width="3" height="2" fill="#ff0000"/>
<rect x="152" y="156" width="1" height="18" fill="#ff0000"/>
<rect x="151" y="163" width="3" height="5" fill="#ff0000"/>
<rect x="152" y="164" width="1" height="3" fill="#ff4500"/>
<rect x="156" y="150" width="1" height="35" fill="#32cd32"/>
<rect x="155" y="163" width="3" height="18" fill="#32cd32"/>
<rect x="160" y="144" width="1" height="40" fill="#ff0000"/>
<rect x="159" y="154" width="3" height="29" fill="#ff0000"/>
<rect x="160" y="155" width="1" height="27" fill="#ff4500"/>
<rect x="164" y="133" width="1" height="26" fill="#32cd32"/>
<rect x="163" y="153" width="3" height="2" fill="#32cd32"/>
<rect x="168" y="141" width="1" height="21" fill="#32cd32"/>
<rect x="167" y="145" width="3" height="10" fill="#32cd32"/>
<rect x="172" y="131" width="1" height="31" fill="#ff0000"/>
<rect x="171" y="131" width="3" height="24" fill="#ff0000"/>
<rect x="172" y="132" width="1" height="22" fill="#ff4500"/>
<rect x="176" y="123" width="1" height="17" fill="#ff0000"/>
<rect x="175" y="124" width="3" height="8" fill="#ff0000"/>
<rect x="176" y="125" width="1" height="6" fill="#ff4500"/>
<rect x="180" y="95" width="1" height="36" fill="#ff0000"/>
<rect x="179" y="99" width="3" height="27" fill="#ff0000"/>
<rect x="180" y="100" width="1" height="25" fill="#ff4500"/>
<rect x="184" y="93" width="1" height="21" fill="#32cd32"/>
<rect x="183" y="99" width="3" height="10" fill="#32cd32"/>
<rect x="188" y="70" width="1" height="40" fill="#ff0000"/>
<rect x="187" y="74" width="3" height="34" fill="#ff0000"/>
<rect x="188" y="75" width="1" height="32" fill="#ff4500"/>
<rect x="192" y="56" width="1" height="23" fill="#ff0000"/>
<rect x="191" y="61" width="3" height="14" fill="#ff0000"/>
<rect x="192" y="62" width="1" height="12" fill="#ff4500"/>
<rect x="196" y="55" width="1" height="22" fill="#32cd32"/>
<rect x="195" y="61" width="3" height="11" fill="#32cd32"/>
<rect x="200" y="66" width="1" height="21" fill="#32cd32"/>
<rect x="199" y="71" width="3" height="12" fill="#32cd32"/>
<rect x="204" y="72" width="1" height="17" fill="#ff0000"/>
<rect x="203" y="78" width="3" height="5" fill="#ff0000"/>
<rect x="204" y="79" width="1" height="3" fill="#ff4500"/>
<rect x="208" y="74" width="1" height="38" fill="#32cd32"/>
<rect x="207" y="78" width="3" height="34" fill="#32cd32"/>
<rect x="212" y="82" width="1" height="31" fill="#ff0000"/>
<rect x="211" y="86" width="3" height="23" fill="#ff0000"/>
<rect x="212" y="87" width="1" height="21" fill="#ff4500"/>
<rect x="216" y="76" width="1" height="17" fill="#ff0000"/>
<rect x="215" y="82" width="3" height="5" fill="#ff0000"/>
<rect x="216" y="83" width="1" height="3" fill="#ff4500"/>
<rect x="220" y="78" width="1" height="18" fill="#32cd32"/>
<rect x="219" y="82" width="3" height="8" fill="#32cd32"/>
<rect x="224" y="85" width="1" height="16" fill="#32cd32"/>
<rect x="223" y="89" width="3" height="9" fill="#32cd32"/>
<rect x="228" y="84" width="1" height="26" fill="#32cd32"/>
<rect x="227" y="97" width="3" height="9" fill="#32cd32"/>
<rect x="232" y="101" width="1" height="30" fill="#32cd32"/>
<rect x="231" y="105" width="3" height="16" fill="#32cd32"/>
<rect x="236" y="103" width="1" height="31" fill="#32cd32"/>
<rect x="235" y="117" width="3" height="12" fill="#32cd32"/>
<rect x="240" y="114" width="1" height="22" fill="#ff0000"/>
<rect x="239" y="126" width="3" height="3" fill="#ff0000"/>
<rect x="240" y="127" width="1" height="1" fill="#ff4500"/>
<rect x="244" y="116" width="1" height="43" fill="#32cd32"/>
<rect x="243" y="126" width="3" height="28" fill="#32cd32"/>
<rect x="248" y="149" width="1" height="32" fill="#32cd32"/>
<rect x="247" y="152" width="3" height="12" fill="#32cd32"/>
<rect x="252" y="160" width="1" height="22" fill="#32cd32"/>
<rect x="251" y="162" width="3" height="15" fill="#32cd32"/>
<rect x="256" y="164" width="1" height="29" fill="#ff0000"/>
<rect x="255" y="170" width="3" height="7" fill="#ff0000"/>
<rect x="256" y="171" width="1" height="5" fill="#ff4500"/>
<rect x="260" y="166" width="1" height="19" fill="#32cd32"/>
<rect x="259" y="169" width="3" height="12" fill="#32cd32"/>
<rect x="264" y="176" width="1" height="29" fill="#32cd32"/>
<rect x="263" y="179" width="3" height="20" fill="#32cd32"/>
<rect x="268" y="183" width="1" height="18" fill="#ff0000"/>
<rect x="267" y="187" width="3" height="13" fill="#ff0000"/>
<rect x="268" y="188" width="1" height="11" fill="#ff4500"/>
<rect x="272" y="181" width="1" height="27" fill="#32cd32"/>
<rect x="271" y="186" width="3" height="14" fill="#32cd32"/>
<rect x="276" y="199" width="1" height="18" fill="#32cd32"/>
<rect x="275" y="199" width="3" height="15" fill="#32cd32"/>
<rect x="280" y="199" width="1" height="18" fill="#ff0000"/>
<rect x="279" y="200" width="3" height="14" fill="#ff0000"/>
<rect x="280" y="201" width="1" height="12" fill="#ff4500"/>
<rect x="284" y="186" width="1" height="22" fill="#32cd32"/>
<rect x="283" y="201" width="3" height="3" fill="#32cd32"/>
<rect x="288" y="177" width="1" height="28" fill="#ff0000"/>
<rect x="287" y="186" width="3" height="19" fill="#ff0000"/>
<rect x="288" y="187" width="1" height="17" fill="#ff4500"/>
<rect x="292" y="173" width="1" height="21" fill="#ff0000"/>
<rect x="291" y="184" width="3" height="3" fill="#ff0000"/>
<rect x="292" y="185" width="1" height="1" fill="#ff4500"/>
<rect x="296" y="182" width="1" height="33" fill="#32cd32"/>
<rect x="295" y="185" width="3" height="27" fill="#32cd32"/>
<rect x="300" y="207" width="1" height="73" fill="#32cd32"/>
<rect x="299" y="209" width="3" height="68" fill="#32cd32"/>
<rect x="304" y="260" width="1" height="36" fill="#ff0000"/>
<rect x="303" y="271" width="3" height="10" fill="#ff0000"/>
<rect x="304" y="272" width="1" height="8" fill="#ff4500"/>
<rect x="308" y="256" width="1" height="24" fill="#ff0000"/>
<rect x="307" y="261" width="3" height="12" fill="#ff0000"/>
<rect x="308" y="262" width="1" height="10" fill="#ff4500"/>
<rect x="312" y="216" width="1" height="51" fill="#ff0000"/>
<rect x="311" y="223" width="3" height="44" fill="#ff0000"/>
<rect x="312" y="224" width="1" height="42" fill="#ff4500"/>
<rect x="316" y="218" width="1" height="25" fill="#32cd32"/>
<rect x="315" y="224" width="3" height="11" fill="#32cd32"/>
<rect x="320" y="229" width="1" height="30" fill="#32cd32"/>
<rect x="319" y="232" width="3" height="17" fill="#32cd32"/>
<rect x="324" y="232" width="1" height="18" fill="#ff0000"/>
<rect x="323" y="244" width="3" height="4" fill="#ff0000"/>
<rect x="324" y="245" width="1" height="2" fill="#ff4500"/>
<rect x="328" y="243" width="1" height="33" fill="#32cd32"/>
<rect x="327" y="244" width="3" height="24" fill="#32cd32"/>
<rect x="332" y="244" width="1" height="27" fill="#ff0000"/>
<rect x="331" y="244" width="3" height="25" fill="#ff0000"/>
<rect x="332" y="245" width="1" height="23" fill="#ff4500"/>
<rect x="336" y="242" width="1" height="17" fill="#32cd32"/>
<rect x="335" y="244" width="3" height="13" fill="#32cd32"/>
<rect x="340" y="243" width="1" height="20" fill="#ff0000"/>
<rect x="339" y="250" width="3" height="7" fill="#ff0000"/>
<rect x="340" y="251" width="1" height="5" fill="#ff4500"/>
<rect x="344" y="244" width="1" height="46" fill="#32cd32"/>
<rect x="343" y="252" width="3" height="31" fill="#32cd32"/>
<rect x="348" y="279" width="1" height="33" fill="#32cd32"/>
<rect x="347" y="283" width="3" height="5" fill="#32cd32"/>
<rect x="352" y="286" width="1" height="48" fill="#32cd32"/>
<rect x="351" y="286" width="3" height="35" fill="#32cd32"/>
<rect x="356" y="310" width="1" height="36" fill="#32cd32"/>
<rect x="355" y="320" width="3" height="12" fill="#32cd32"/>
<rect x="360" y="326" width="1" height="32" fill="#32cd32"/>
<rect x="359" y="329" width="3" height="27" fill="#32cd32"/>
<rect x="364" y="335" width="1" height="32" fill="#32cd32"/>
<rect x="363" y="341" width="3" height="5" fill="#32cd32"/>
<rect x="368" y="321" width="1" height="35" fill="#ff0000"/>
<rect x="367" y="325" width="3" height="20" fill="#ff0000"/>
<rect x="368" y="326" width="1" height="18" fill="#ff4500"/>
<rect x="372" y="312" width="1" height="21" fill="#ff0000"/>
<rect x="371" y="323" width="3" height="4" fill="#ff0000"/>
<rect x="372" y="324" width="1" height="2" fill="#ff4500"/>
<rect x="376" y="299" width="1" height="32" fill="#ff0000"/>
<rect x="375" y="301" width="3" height="24" fill="#ff0000"/>
<rect x="376" y="302" width="1" height="22" fill="#ff4500"/>
<rect x="380" y="286" width="1" height="36" fill="#32cd32"/>
<rect x="379" y="302" width="3" height="13" fill="#32cd32"/>
<rect x="384" y="301" width="1" height="23" fill="#32cd32"/>
<rect x="383" y="311" width="3" height="7" fill="#32cd32"/>
<rect x="388" y="297" width="1" height="26" fill="#ff0000"/>
<rect x="387" y="298" width="3" height="20" fill="#ff0000"/>
<rect x="388" y="299" width="1" height="18" fill="#ff4500"/>
<rect x="392" y="299" width="1" height="27" fill="#32cd32"/>
<rect x="391" y="299" width="3" height="19" fill="#32cd32"/>
<rect x="396" y="308" width="1" height="24" fill="#32cd32"/>
<rect x="395" y="317" width="3" height="5" fill="#32cd32"/>
<rect x="400" y="300" width="1" height="29" fill="#ff0000"/>
<rect x="399" y="307" width="3" height="16" fill="#ff0000"/>
<rect x="400" y="308" width="1" height="14" fill="#ff4500"/>
<rect x="404" y="273" width="1" height="34" fill="#ff0000"/>
<rect x="403" y="289" width="3" height="18" fill="#ff0000"/>
<rect x="404" y="290" width="1" height="16" fill="#ff4500"/>
<rect x="408" y="286" width="1" height="15" fill="#32cd32"/>
<rect x="407" y="289" width="3" height="3" fill="#32cd32"/>
<rect x="412" y="242" width="1" height="73" fill="#ff0000"/>
<rect x="411" y="247" width="3" height="46" fill="#ff0000"/>
<rect x="412" y="248" width="1" height="44" fill="#ff4500"/>
<rect x="416" y="211" width="1" height="61" fill="#ff0000"/>
<rect x="415" y="229" width="3" height="19" fill="#ff0000"/>
<rect x="416" y="230" width="1" height="17" fill="#ff4500"/>
<rect x="420" y="214" width="1" height="31" fill="#ff0000"/>
<rect x="419" y="222" width="3" height="8" fill="#ff0000"/>
<rect x="420" y="223" width="1" height="6" fill="#ff4500"/>
<rect x="424" y="191" width="1" height="40" fill="#ff0000"/>
<rect x="423" y="208" width="3" height="19" fill="#ff0000"/>
<rect x="424" y="209" width="1" height="17" fill="#ff4500"/>
<rect x="428" y="183" width="1" height="32" fill="#ff0000"/>
<rect x="427" y="196" width="3" height="13" fill="#ff0000"/>
<rect x="428" y="197" width="1" height="11" fill="#ff4500"/>
<rect x="432" y="171" width="1" height="31" fill="#ff0000"/>
<rect x="431" y="192" width="3" height="5" fill="#ff0000"/>
<rect x="432" y="193" width="1" height="3" fill="#ff4500"/>
<rect x="436" y="183" width="1" height="28" fill="#32cd32"/>
<rect x="435" y="192" width="3" height="12" fill="#32cd32"/>
<rect x="440" y="201" width="1" height="30" fill="#32cd32"/>
<rect x="439" y="202" width="3" height="16" fill="#32cd32"/>
<rect x="444" y="212" width="1" height="11" fill="#ff0000"/>
<rect x="443" y="218" width="3" height="4" fill="#ff0000"/>
<rect x="444" y="219" width="1" height="2" fill="#ff4500"/>
<rect x="448" y="204" width="1" height="19" fill="#ff0000"/>
<rect x="447" y="210" width="3" height="9" fill="#ff0000"/>
<rect x="448" y="211" width="1" height="7" fill="#ff4500"/>
<rect x="452" y="203" width="1" height="19" fill="#ff0000"/>
<rect x="451" y="207" width="3" height="6" fill="#ff0000"/>
<rect x="452" y="208" width="1" height="4" fill="#ff4500"/>
<rect x="456" y="197" width="1" height="20" fill="#ff0000"/>
<rect x="455" y="199" width="3" height="10" fill="#ff0000"/>
<rect x="456" y="200" width="1" height="8" fill="#ff4500"/>
<rect x="460" y="176" width="1" height="31" fill="#32cd32"/>
<rect x="459" y="199" width="3" height="5" fill="#32cd32"/>
<rect x="464" y="197" width="1" height="24" fill="#32cd32"/>
<rect x="463" y="203" width="3" height="12" fill="#32cd32"/>
<rect x="468" y="183" width="1" height="38" fill="#ff0000"/>
<rect x="467" y="194" width="3" height="20" fill="#ff0000"/>
<rect x="468" y="195" width="1" height="18" fill="#ff4500"/>
<rect x="472" y="186" width="1" height="27" fill="#32cd32"/>
<rect x="471" y="193" width="3" height="7" fill="#32cd32"/>
<rect x="476" y="163" width="1" height="38" fill="#ff0000"/>
<rect x="475" y="177" width="3" height="24" fill="#ff0000"/>
<rect x="476" y="178" width="1" height="22" fill="#ff4500"/>
<rect x="480" y="163" width="1" height="29" fill="#32cd32"/>
<rect x="479" y="176" width="3" height="13" fill="#32cd32"/>
<rect x="484" y="187" width="1" height="14" fill="#32cd32"/>
<rect x="483" y="193" width="3" height="4" fill="#32cd32"/>
<rect x="488" y="188" width="1" height="22" fill="#ff0000"/>
<rect x="487" y="190" width="3" height="7" fill="#ff0000"/>
<rect x="488" y="191" width="1" height="5" fill="#ff4500"/>
<rect x="492" y="185" width="1" height="48" fill="#32cd32"/>
<rect x="491" y="190" width="3" height="27" fill="#32cd32"/>
<rect x="496" y="200" width="1" height="24" fill="#ff0000"/>
<rect x="495" y="213" width="3" height="4" fill="#ff0000"/>
<rect x="496" y="214" width="1" height="2" fill="#ff4500"/>
<rect x="500" y="187" width="1" height="30" fill="#ff0000"/>
<rect x="499" y="200" width="3" height="16" fill="#ff0000"/>
<rect x="500" y="201" width="1" height="14" fill="#ff4500"/>
<rect x="504" y="166" width="1" height="33" fill="#ff0000"/>
<rect x="503" y="171" width="3" height="26" fill="#ff0000"/>
<rect x="504" y="172" width="1" height="24" fill="#ff4500"/>
<rect x="508" y="170" width="1" height="21" fill="#32cd32"/>
<rect x="507" y="171" width="3" height="14" fill="#32cd32"/>
<rect x="512" y="181" width="1" height="39" fill="#32cd32"/>
<rect x="511" y="184" width="3" height="29" fill="#32cd32"/>
<rect x="516" y="193" width="1" height="21" fill="#ff0000"/>
<rect x="515" y="200" width="3" height="13" fill="#ff0000"/>
<rect x="516" y="201" width="1" height="11" fill="#ff4500"/>
<rect x="520" y="182" width="1" height="25" fill="#ff0000"/>
<rect x="519" y="198" width="3" height="3" fill="#ff0000"/>
<rect x="520" y="199" width="1" height="1" fill="#ff4500"/>
<rect x="524" y="171" width="1" height="27" fill="#ff0000"/>
<rect x="523" y="189" width="3" height="8" fill="#ff0000"/>
<rect x="524" y="190" width="1" height="6" fill="#ff4500"/>
<rect x="528" y="125" width="1" height="66" fill="#ff0000"/>
<rect x="527" y="133" width="3" height="57" fill="#ff0000"/>
<rect x="528" y="134" width="1" height="55" fill="#ff4500"/>
<rect x="532" y="133" width="1" height="56" fill="#32cd32"/>
<rect x="531" y="133" width="3" height="49" fill="#32cd32"/>
<rect x="536" y="173" width="1" height="52" fill="#32cd32"/>
<rect x="535" y="180" width="3" height="41" fill="#32cd32"/>
<rect x="540" y="200" width="1" height="30" fill="#ff0000"/>
<rect x="539" y="210" width="3" height="11" fill="#ff0000"/>
<rect x="540" y="211" width="1" height="9" fill="#ff4500"/>
<rect x="544" y="201" width="1" height="20" fill="#32cd32"/>
<rect x="543" y="210" width="3" height="5" fill="#32cd32"/>
<rect x="548" y="206" width="1" height="14" fill="#ff0000"/>
<rect x="547" y="211" width="3" height="4" fill="#ff0000"/>
<rect x="548" y="212" width="1" height="2" fill="#ff4500"/>
<rect x="552" y="208" width="1" height="20" fill="#32cd32"/>
<rect x="551" y="211" width="3" height="5" fill="#32cd32"/>
<rect x="556" y="212" width="1" height="16" fill="#32cd32"/>
<rect x="555" y="214" width="3" height="6" fill="#32cd32"/>
<rect x="560" y="186" width="1" height="33" fill="#ff0000"/>
<rect x="559" y="193" width="3" height="25" fill="#ff0000"/>
<rect x="560" y="194" width="1" height="23" fill="#ff4500"/>
<rect x="564" y="180" width="1" height="20" fill="#ff0000"/>
<rect x="563" y="184" width="3" height="6" fill="#ff0000"/>
<rect x="564" y="185" width="1" height="4" fill="#ff4500"/>
<rect x="568" y="179" width="1" height="15" fill="#ff0000"/>
<rect x="567" y="182" width="3" height="6" fill="#ff0000"/>
<rect x="568" y="183" width="1" height="4" fill="#ff4500"/>
<rect x="572" y="173" width="1" height="30" fill="#32cd32"/>
<rect x="571" y="181" width="3" height="16" fill="#32cd32"/>
<rect x="576" y="188" width="1" height="13" fill="#ff0000"/>
<rect x="575" y="194" width="3" height="3" fill="#ff0000"/>
<rect x="576" y="195" width="1" height="1" fill="#ff4500"/>
<rect x="580" y="184" width="1" height="15" fill="#32cd32"/>
<rect x="579" y="193" width="3" height="5" fill="#32cd32"/>
<rect x="584" y="188" width="1" height="15" fill="#32cd32"/>
<rect x="583" y="190" width="3" height="8" fill="#32cd32"/>
<rect x="588" y="168" width="1" height="31" fill="#ff0000"/>
<rect x="587" y="174" width="3" height="24" fill="#ff0000"/>
<rect x="588" y="175" width="1" height="22" fill="#ff4500"/>
<rect x="592" y="172" width="1" height="20" fill="#32cd32"/>
<rect x="591" y="174" width="3" height="12" fill="#32cd32"/>
<rect x="596" y="158" width="1" height="28" fill="#ff0000"/>
<rect x="595" y="165" width="3" height="20" fill="#ff0000"/>
<rect x="596" y="166" width="1" height="18" fill="#ff4500"/>
<rect x="600" y="149" width="1" height="22" fill="#32cd32"/>
<rect x="599" y="165" width="3" height="2" fill="#32cd32"/>
<rect x="604" y="163" width="1" height="36" fill="#32cd32"/>
<rect x="603" y="163" width="3" height="30" fill="#32cd32"/>
<rect x="608" y="183" width="1" height="30" fill="#32cd32"/>
<rect x="607" y="192" width="3" height="15" fill="#32cd32"/>
<rect x="612" y="194" width="1" height="16" fill="#ff0000"/>
<rect x="611" y="202" width="3" height="5" fill="#ff0000"/>
<rect x="612" y="203" width="1" height="3" fill="#ff4500"/>
<rect x="616" y="184" width="1" height="21" fill="#ff0000"/>
<rect x="615" y="187" width="3" height="18" fill="#ff0000"/>
<rect x="616" y="188" width="1" height="16" fill="#ff4500"/>
<rect x="620" y="183" width="1" height="38" fill="#32cd32"/>
<rect x="619" y="188" width="3" height="28" fill="#32cd32"/>
<rect x="624" y="207" width="1" height="11" fill="#ff0000"/>
<rect x="623" y="211" width="3" height="6" fill="#ff0000"/>
<rect x="624" y="212" width="1" height="4" fill="#ff4500"/>
<rect x="628" y="202" width="1" height="36" fill="#32cd32"/>
<rect x="627" y="202" width="3" height="27" fill="#32cd32"/>
<rect x="632" y="214" width="1" height="23" fill="#32cd32"/>
<rect x="631" y="227" width="3" height="4" fill="#32cd32"/>
<rect x="636" y="220" width="1" height="17" fill="#32cd32"/>
<rect x="635" y="229" width="3" height="6" fill="#32cd32"/>
<rect x="640" y="222" width="1" height="45" fill="#32cd32"/>
<rect x="639" y="233" width="3" height="17" fill="#32cd32"/>
<rect x="644" y="226" width="1" height="24" fill="#ff0000"/>
<rect x="643" y="233" width="3" height="17" fill="#ff0000"/>
<rect x="644" y="234" width="1" height="15" fill="#ff4500"/>
<rect x="648" y="212" width="1" height="24" fill="#ff0000"/>
<rect x="647" y="216" width="3" height="18" fill="#ff0000"/>
<rect x="648" y="217" width="1" height="16" fill="#ff4500"/>
<rect x="652" y="212" width="1" height="19" fill="#32cd32"/>
<rect x="651" y="216" width="3" height="6" fill="#32cd32"/>
<rect x="656" y="215" width="1" height="24" fill="#32cd32"/>
<rect x="655" y="220" width="3" height="12" fill="#32cd32"/>
<rect x="660" y="225" width="1" height="41" fill="#32cd32"/>
<rect x="659" y="230" width="3" height="15" fill="#32cd32"/>
<rect x="664" y="231" width="1" height="15" fill="#ff0000"/>
<rect x="663" y="242" width="3" height="3" fill="#ff0000"/>
<rect x="664" y="243" width="1" height="1" fill="#ff4500"/>
<rect x="668" y="236" width="1" height="24" fill="#32cd32"/>
<rect x="667" y="242" width="3" height="9" fill="#32cd32"/>
<rect x="672" y="241" width="1" height="28" fill="#32cd32"/>
<rect x="671" y="249" width="3" height="13" fill="#32cd32"/>
<rect x="676" y="225" width="1" height="39" fill="#ff0000"/>
<rect x="675" y="229" width="3" height="34" fill="#ff0000"/>
<rect x="676" y="230" width="1" height="32" fill="#ff4500"/>
<rect x="680" y="201" width="1" height="41" fill="#ff0000"/>
<rect x="679" y="204" width="3" height="25" fill="#ff0000"/>
<rect x="680" y="205" width="1" height="23" fill="#ff4500"/>
<rect x="684" y="180" width="1" height="24" fill="#ff0000"/>
<rect x="683" y="189" width="3" height="13" fill="#ff0000"/>
<rect x="684" y="190" width="1" height="11" fill="#ff4500"/>
<rect x="688" y="180" width="1" height="23" fill="#ff0000"/>
<rect x="687" y="185" width="3" height="6" fill="#ff0000"/>
<rect x="688" y="186" width="1" height="4" fill="#ff4500"/>
<rect x="692" y="181" width="1" height="47" fill="#32cd32"/>
<rect x="691" y="185" width="3" height="19" fill="#32cd32"/>
<rect x="696" y="198" width="1" height="27" fill="#32cd32"/>
<rect x="695" y="203" width="3" height="13" fill="#32cd32"/>
<rect x="700" y="200" width="1" height="23" fill="#ff0000"/>
<rect x="699" y="212" width="3" height="4" fill="#ff0000"/>
<rect x="700" y="213" width="1" height="2" fill="#ff4500"/>
<rect x="704" y="206" width="1" height="23" fill="#32cd32"/>
<rect x="703" y="217" width="3" height="3" fill="#32cd32"/>
<rect x="708" y="203" width="1" height="26" fill="#ff0000"/>
<rect x="707" y="204" width="3" height="16" fill="#ff0000"/>
<rect x="708" y="205" width="1" height="14" fill="#ff4500"/>
<rect x="712" y="191" width="1" height="20" fill="#ff0000"/>
<rect x="711" y="193" width="3" height="10" fill="#ff0000"/>
<rect x="712" y="194" width="1" height="8" fill="#ff4500"/>
<rect x="716" y="192" width="1" height="48" fill="#32cd32"/>
<rect x="715" y="193" width="3" height="42" fill="#32cd32"/>
<rect x="720" y="215" width="1" height="48" fill="#32cd32"/>
<rect x="719" y="233" width="3" height="26" fill="#32cd32"/>
<rect x="724" y="220" width="1" height="27" fill="#ff0000"/>
<rect x="723" y="232" width="3" height="12" fill="#ff0000"/>
<rect x="724" y="233" width="1" height="10" fill="#ff4500"/>
<rect x="728" y="218" width="1" height="27" fill="#32cd32"/>
<rect x="727" y="233" width="3" height="2" fill="#32cd32"/>
<rect x="732" y="203" width="1" height="35" fill="#ff0000"/>
<rect x="731" y="225" width="3" height="11" fill="#ff0000"/>
<rect x="732" y="226" width="1" height="9" fill="#ff4500"/>
<rect x="736" y="222" width="1" height="15" fill="#32cd32"/>
<rect x="735" y="225" width="3" height="8" fill="#32cd32"/>
<rect x="740" y="224" width="1" height="21" fill="#32cd32"/>
<rect x="739" y="231" width="3" height="11" fill="#32cd32"/>
<rect x="744" y="218" width="1" height="35" fill="#ff0000"/>
<rect x="743" y="220" width="3" height="20" fill="#ff0000"/>
<rect x="744" y="221" width="1" height="18" fill="#ff4500"/>
<rect x="748" y="212" width="1" height="15" fill="#32cd32"/>
<rect x="747" y="220" width="3" height="7" fill="#32cd32"/>
<rect x="752" y="223" width="1" height="44" fill="#32cd32"/>
<rect x="751" y="224" width="3" height="40" fill="#32cd32"/>
<rect x="756" y="246" width="1" height="21" fill="#ff0000"/>
<rect x="755" y="252" width="3" height="10" fill="#ff0000"/>
<rect x="756" y="253" width="1" height="8" fill="#ff4500"/>
<rect x="760" y="248" width="1" height="24" fill="#32cd32"/>
<rect x="759" y="251" width="3" height="4" fill="#32cd32"/>
<rect x="764" y="247" width="1" height="20" fill="#32cd32"/>
<rect x="763" y="256" width="3" height="6" fill="#32cd32"/>
<rect x="768" y="261" width="1" height="84" fill="#32cd32"/>
<rect x="767" y="261" width="3" height="75" fill="#32cd32"/>
<rect x="772" y="308" width="1" height="31" fill="#ff0000"/>
<rect x="771" y="310" width="3" height="25" fill="#ff0000"/>
<rect x="772" y="311" width="1" height="23" fill="#ff4500"/>
<rect x="776" y="300" width="1" height="25" fill="#ff0000"/>
<rect x="775" y="309" width="3" height="2" fill="#ff0000"/>
<rect x="780" y="303" width="1" height="30" fill="#32cd32"/>
<rect x="779" y="308" width="3" height="15" fill="#32cd32"/>
<rect x="784" y="316" width="1" height="20" fill="#32cd32"/>
<rect x="783" y="323" width="3" height="6" fill="#32cd32"/>
<rect x="788" y="321" width="1" height="15" fill="#32cd32"/>
<rect x="787" y="327" width="3" height="4" fill="#32cd32"/>
<rect x="792" y="305" width="1" height="28" fill="#ff0000"/>
<rect x="791" y="308" width="3" height="22" fill="#ff0000"/>
<rect x="792" y="309" width="1" height="20" fill="#ff4500"/>
<rect x="796" y="294" width="1" height="27" fill="#32cd32"/>
<rect x="795" y="308" width="3" height="10" fill="#32cd32"/>
<rect x="800" y="287" width="1" height="38" fill="#ff0000"/>
<rect x="799" y="290" width="3" height="27" fill="#ff0000"/>
<rect x="800" y="291" width="1" height="25" fill="#ff4500"/>
<rect x="804" y="288" width="1" height="20" fill="#32cd32"/>
<rect x="803" y="290" width="3" height="17" fill="#32cd32"/>
<rect x="808" y="293" width="1" height="20" fill="#ff0000"/>
<rect x="807" y="299" width="3" height="8" fill="#ff0000"/>
<rect x="808" y="300" width="1" height="6" fill="#ff4500"/>
<rect x="812" y="291" width="1" height="22" fill="#32cd32"/>
<rect x="811" y="297" width="3" height="16" fill="#32cd32"/>
<rect x="816" y="297" width="1" height="16" fill="#ff0000"/>
<rect x="815" y="306" width="3" height="5" fill="#ff0000"/>
<rect x="816" y="307" width="1" height="3" fill="#ff4500"/>
<rect x="820" y="290" width="1" height="19" fill="#ff0000"/>
<rect x="819" y="303" width="3" height="4" fill="#ff0000"/>
<rect x="820" y="304" width="1" height="2" fill="#ff4500"/>
<rect x="824" y="301" width="1" height="22" fill="#32cd32"/>
<rect x="823" y="305" width="3" height="12" fill="#32cd32"/>
<rect x="828" y="303" width="1" height="18" fill="#32cd32"/>
<rect x="827" y="316" width="3" height="4" fill="#32cd32"/>
<rect x="832" y="298" width="1" height="23" fill="#ff0000"/>
<rect x="831" y="301" width="3" height="16" fill="#ff0000"/>
<rect x="832" y="302" width="1" height="14" fill="#ff4500"/>
<rect x="836" y="290" width="1" height="33" fill="#32cd32"/>
<rect x="835" y="300" width="3" height="13" fill="#32cd32"/>
<rect x="840" y="308" width="1" height="32" fill="#32cd32"/>
<rect x="839" y="310" width="3" height="15" fill="#32cd32"/>
<rect x="844" y="321" width="1" height="16" fill="#ff0000"/>
<rect x="843" y="326" width="3" height="5" fill="#ff0000"/>
<rect x="844" y="327" width="1" height="3" fill="#ff4500"/>
<rect x="848" y="303" width="1" height="51" fill="#ff0000"/>
<rect x="847" y="313" width="3" height="12" fill="#ff0000"/>
<rect x="848" y="314" width="1" height="10" fill="#ff4500"/>
<rect x="852" y="309" width="1" height="30" fill="#32cd32"/>
<rect x="851" y="312" width="3" height="23" fill="#32cd32"/>
<rect x="856" y="314" width="1" height="23" fill="#ff0000"/>
<rect x="855" y="328" width="3" height="6" fill="#ff0000"/>
<rect x="856" y="329" width="1" height="4" fill="#ff4500"/>
<rect x="860" y="307" width="1" height="23" fill="#ff0000"/>
<rect x="859" y="313" width="3" height="16" fill="#ff0000"/>
<rect x="860" y="314" width="1" height="14" fill="#ff4500"/>
<rect x="864" y="307" width="1" height="26" fill="#32cd32"/>
<rect x="863" y="310" width="3" height="7" fill="#32cd32"/>
<rect x="868" y="307" width="1" height="18" fill="#ff0000"/>
<rect x="867" y="312" width="3" height="5" fill="#ff0000"/>
<rect x="868" y="313" width="1" height="3" fill="#ff4500"/>
<rect x="872" y="302" width="1" height="18" fill="#ff0000"/>
<rect x="871" y="307" width="3" height="7" fill="#ff0000"/>
<rect x="872" y="308" width="1" height="5" fill="#ff4500"/>
<rect x="876" y="306" width="1" height="15" fill="#32cd32"/>
<rect x="875" y="307" width="3" height="9" fill="#32cd32"/>
<rect x="880" y="300" width="1" height="17" fill="#ff0000"/>
<rect x="879" y="304" width="3" height="11" fill="#ff0000"/>
<rect x="880" y="305" width="1" height="9" fill="#ff4500"/>
<rect x="884" y="307" width="1" height="20" fill="#32cd32"/>
<rect x="883" y="307" width="3" height="16" fill="#32cd32"/>
<rect x="888" y="321" width="1" height="31" fill="#32cd32"/>
<rect x="887" y="321" width="3" height="24" fill="#32cd32"/>
<rect x="892" y="334" width="1" height="17" fill="#ff0000"/>
<rect x="891" y="339" width="3" height="5" fill="#ff0000"/>
<rect x="892" y="340" width="1" height="3" fill="#ff4500"/>
<rect x="896" y="331" width="1" height="15" fill="#ff0000"/>
<rect x="895" y="338" width="3" height="3" fill="#ff0000"/>
<rect x="896" y="339" width="1" height="1" fill="#ff4500"/>
<rect x="900" y="327" width="1" height="19" fill="#ff0000"/>
<rect x="899" y="336" width="3" height="3" fill="#ff0000"/>
<rect x="900" y="337" width="1" height="1" fill="#ff4500"/>
<rect x="904" y="328" width="1" height="16" fill="#ff0000"/>
<rect x="903" y="335" width="3" height="3" fill="#ff0000"/>
<rect x="904" y="336" width="1" height="1" fill="#ff4500"/>
<rect x="908" y="332" width="1" height="23" fill="#32cd32"/>
<rect x="907" y="335" width="3" height="16" fill="#32cd32"/>
<rect x="912" y="349" width="1" height="48" fill="#32cd32"/>
<rect x="911" y="349" width="3" height="28" fill="#32cd32"/>
<rect x="916" y="322" width="1" height="62" fill="#ff0000"/>
<rect x="915" y="332" width="3" height="43" fill="#ff0000"/>
<rect x="916" y="333" width="1" height="41" fill="#ff4500"/>
<rect x="920" y="315" width="1" height="36" fill="#32cd32"/>
<rect x="919" y="338" width="3" height="3" fill="#32cd32"/>
<rect x="924" y="333" width="1" height="17" fill="#32cd32"/>
<rect x="923" y="334" width="3" height="13" fill="#32cd32"/>
</g>
<g shape-rendering="crispEdges">
<rect x="3" y="263" width="6" height="6" fill="#00ff00"/>
<rect x="5" y="265" width="2" height="2" fill="#fff"/>
<rect x="1160" y="263" width="6" height="6" fill="#00ff00"/>
<rect x="1162" y="265" width="2" height="2" fill="#fff"/>
<rect x="3" y="336" width="6" height="6" fill="#0000ff"/>
<rect x="5" y="338" width="2" height="2" fill="#fff"/>
<rect x="1160" y="336" width="6" height="6" fill="#0000ff"/>
<rect x="1162" y="338" width="2" height="2" fill="#fff"/>
<rect x="3" y="391" width="6" height="6" fill="#0000ff"/>
<rect x="5" y="393" width="2" height="2" fill="#fff"/>
<rect x="1160" y="391" width="6" height="6" fill="#0000ff"/>
<rect x="1162" y="393" width="2" height="2" fill="#fff"/>
</g>
<rect x="1167" y="38" width="2" height="1" fill="#000"/>
<text transform="translate(1171.53,42) scale(0.9539,1)" font-size="9.8px" fill="#000" stroke="#000" stroke-width="0.2">6.59120</text>
<rect x="1167" y="71" width="2" height="1" fill="#000"/>
<text transform="translate(1171.53,75) scale(0.9539,1)" font-size="9.8px" fill="#000" stroke="#000" stroke-width="0.2">6.56670</text>
<rect x="1167" y="104" width="2" height="1" fill="#000"/>
<text transform="translate(1171.53,108) scale(0.9539,1)" font-size="9.8px" fill="#000" stroke="#000" stroke-width="0.2">6.54290</text>
<rect x="1167" y="137" width="2" height="1" fill="#000"/>
<text transform="translate(1171.53,141) scale(0.9539,1)" font-size="9.8px" fill="#000" stroke="#000" stroke-width="0.2">6.51840</text>
<rect x="1167" y="170" width="2" height="1" fill="#000"/>
<text transform="translate(1171.53,174) scale(0.9539,1)" font-size="9.8px" fill="#000" stroke="#000" stroke-width="0.2">6.49460</text>
<rect x="1167" y="203" width="2" height="1" fill="#000"/>
<text transform="translate(1171.53,207) scale(0.9539,1)" font-size="9.8px" fill="#000" stroke="#000" stroke-width="0.2">6.47060</text>
<rect x="1167" y="236" width="2" height="1" fill="#000"/>
<text transform="translate(1171.53,240) scale(0.9539,1)" font-size="9.8px" fill="#000" stroke="#000" stroke-width="0.2">6.44560</text>
<rect x="1167" y="269" width="2" height="1" fill="#000"/>
<text transform="translate(1171.53,273) scale(0.9539,1)" font-size="9.8px" fill="#000" stroke="#000" stroke-width="0.2">6.42180</text>
<rect x="1167" y="302" width="2" height="1" fill="#000"/>
<text transform="translate(1171.53,306) scale(0.9539,1)" font-size="9.8px" fill="#000" stroke="#000" stroke-width="0.2">6.39730</text>
<rect x="1167" y="335" width="2" height="1" fill="#000"/>
<text transform="translate(1171.53,339) scale(0.9539,1)" font-size="9.8px" fill="#000" stroke="#000" stroke-width="0.2">6.37350</text>
<rect x="1167" y="368" width="2" height="1" fill="#000"/>
<text transform="translate(1171.53,372) scale(0.9539,1)" font-size="9.8px" fill="#000" stroke="#000" stroke-width="0.2">6.34900</text>
<rect x="1167" y="401" width="2" height="1" fill="#000"/>
<text transform="translate(1171.53,405) scale(0.9539,1)" font-size="9.8px" fill="#000" stroke="#000" stroke-width="0.2">6.32520</text>
<rect x="1168" y="341" width="41" height="11" fill="#000"/>
<text transform="translate(1171.53,350) scale(0.9566,1)" font-size="9.8px" fill="#fff" stroke="#fff" stroke-width="0.2">6.36543</text>
<rect x="1168" y="127" width="41" height="11" fill="#ff0000"/>
<text transform="translate(1171.53,136) scale(0.9566,1)" font-size="9.8px" fill="#fff" stroke="#fff" stroke-width="0.2">6.52126</text>
<rect x="1168" y="197" width="41" height="11" fill="#ff0000"/>
<text transform="translate(1171.53,206) scale(0.9512,1)" font-size="9.8px" fill="#fff" stroke="#fff" stroke-width="0.2">6.47044</text>
<rect x="1168" y="260" width="41" height="11" fill="#00ff00"/>
<text transform="translate(1171.53,269) scale(0.9512,1)" font-size="9.8px" fill="#fff" stroke="#fff" stroke-width="0.2">6.42424</text>
<rect x="1168" y="333" width="41" height="11" fill="#0000ff"/>
<text transform="translate(1171.53,342) scale(0.9566,1)" font-size="9.8px" fill="#fff" stroke="#fff" stroke-width="0.2">6.37063</text>
<rect x="1168" y="388" width="41" height="11" fill="#0000ff"/>
<text transform="translate(1171.53,397) scale(0.9566,1)" font-size="9.8px" fill="#fff" stroke="#fff" stroke-width="0.2">6.33041</text>
<g shape-rendering="crispEdges">
<rect x="3" y="438" width="3" height="16" fill="#c0c0c0"/>
<rect x="7" y="438" width="3" height="14" fill="#c0c0c0"/>
<rect x="11" y="438" width="3" height="14" fill="#c0c0c0"/>
<rect x="15" y="438" width="3" height="10" fill="#c0c0c0"/>
<rect x="19" y="438" width="3" height="11" fill="#c0c0c0"/>
<rect x="23" y="438" width="3" height="13" fill="#c0c0c0"/>
<rect x="27" y="438" width="3" height="12" fill="#c0c0c0"/>
<rect x="31" y="438" width="3" height="13" fill="#c0c0c0"/>
<rect x="35" y="438" width="3" height="13" fill="#c0c0c0"/>
<rect x="39" y="438" width="3" height="12" fill="#c0c0c0"/>
<rect x="43" y="438" width="3" height="12" fill="#c0c0c0"/>
<rect x="47" y="438" width="3" height="14" fill="#c0c0c0"/>
<rect x="51" y="438" width="3" height="17" fill="#c0c0c0"/>
<rect x="55" y="438" width="3" height="19" fill="#c0c0c0"/>
<rect x="59" y="438" width="3" height="20" fill="#c0c0c0"/>
<rect x="63" y="438" width="3" height="21" fill="#c0c0c0"/>
<rect x="67" y="438" width="3" height="23" fill="#c0c0c0"/>
<rect x="71" y="438" width="3" height="22" fill="#c0c0c0"/>
<rect x="75" y="438" width="3" height="21" fill="#c0c0c0"/>
<rect x="79" y="438" width="3" height="17" fill="#c0c0c0"/>
<rect x="83" y="438" width="3" height="14" fill="#c0c0c0"/>
<rect x="87" y="438" width="3" height="11" fill="#c0c0c0"/>
<rect x="91" y="438" width="3" height="9" fill="#c0c0c0"/>
<rect x="95" y="438" width="3" height="9" fill="#c0c0c0"/>
<rect x="99" y="438" width="3" height="3" fill="#c0c0c0"/>
<rect x="103" y="438" width="3" height="1" fill="#c0c0c0"/>
<rect x="107" y="438" width="3" height="1" fill="#c0c0c0"/>
<rect x="111" y="437" width="3" height="1" fill="#c0c0c0"/>
<rect x="115" y="435" width="3" height="3" fill="#c0c0c0"/>
<rect x="119" y="433" width="3" height="5" fill="#c0c0c0"/>
<rect x="123" y="429" width="3" height="9" fill="#c0c0c0"/>
<rect x="127" y="423" width="3" height="15" fill="#c0c0c0"/>
<rect x="131" y="421" width="3" height="17" fill="#c0c0c0"/>
<rect x="135" y="422" width="3" height="16" fill="#c0c0c0"/>
<rect x="139" y="424" width="3" height="14" fill="#c0c0c0"/>
<rect x="143" y="425" width="3" height="13" fill="#c0c0c0"/>
<rect x="147" y="425" width="3" height="13" fill="#c0c0c0"/>
<rect x="151" y="426" width="3" height="12" fill="#c0c0c0"/>
<rect x="155" y="427" width="3" height="11" fill="#c0c0c0"/>
<rect x="159" y="427" width="3" height="11" fill="#c0c0c0"/>
<rect x="163" y="426" width="3" height="12" fill="#c0c0c0"/>
<rect x="167" y="426" width="3" height="12" fill="#c0c0c0"/>
<rect x="171" y="425" width="3" height="13" fill="#c0c0c0"/>
<rect x="175" y="424" width="3" height="14" fill="#c0c0c0"/>
<rect x="179" y="421" width="3" height="17" fill="#c0c0c0"/>
<rect x="183" y="420" width="3" height="18" fill="#c0c0c0"/>
<rect x="187" y="417" width="3" height="21" fill="#c0c0c0"/>
<rect x="191" y="414" width="3" height="24" fill="#c0c0c0"/>
<rect x="195" y="412" width="3" height="26" fill="#c0c0c0"/>
<rect x="199" y="412" width="3" height="26" fill="#c0c0c0"/>
<rect x="203" y="412" width="3" height="26" fill="#c0c0c0"/>
<rect x="207" y="414" width="3" height="24" fill="#c0c0c0"/>
<rect x="211" y="415" width="3" height="23" fill="#c0c0c0"/>
<rect x="215" y="415" width="3" height="23" fill="#c0c0c0"/>
<rect x="219" y="417" width="3" height="21" fill="#c0c0c0"/>
<rect x="223" y="418" width="3" height="20" fill="#c0c0c0"/>
<rect x="227" y="420" width="3" height="18" fill="#c0c0c0"/>
<rect x="231" y="423" width="3" height="15" fill="#c0c0c0"/>
<rect x="235" y="426" width="3" height="12" fill="#c0c0c0"/>
<rect x="239" y="428" width="3" height="10" fill="#c0c0c0"/>
<rect x="243" y="432" width="3" height="6" fill="#c0c0c0"/>
<rect x="247" y="435" width="3" height="3" fill="#c0c0c0"/>
<rect x="251" y="438" width="3" height="1" fill="#c0c0c0"/>
<rect x="255" y="438" width="3" height="4" fill="#c0c0c0"/>
<rect x="259" y="438" width="3" height="6" fill="#c0c0c0"/>
<rect x="263" y="438" width="3" height="10" fill="#c0c0c0"/>
<rect x="267" y="438" width="3" height="11" fill="#c0c0c0"/>
<rect x="271" y="438" width="3" height="13" fill="#c0c0c0"/>
<rect x="275" y="438" width="3" height="16" fill="#c0c0c0"/>
<rect x="279" y="438" width="3" height="16" fill="#c0c0c0"/>
<rect x="283" y="438" width="3" height="17" fill="#c0c0c0"/>
<rect x="287" y="438" width="3" height="16" fill="#c0c0c0"/>
<rect x="291" y="438" width="3" height="15" fill="#c0c0c0"/>
<rect x="295" y="438" width="3" height="16" fill="#c0c0c0"/>
<rect x="299" y="438" width="3" height="21" fill="#c0c0c0"/>
<rect x="303" y="438" width="3" height="24" fill="#c0c0c0"/>
<rect x="307" y="438" width="3" height="26" fill="#c0c0c0"/>
<rect x="311" y="438" width="3" height="24" fill="#c0c0c0"/>
<rect x="315" y="438" width="3" height="23" fill="#c0c0c0"/>
<rect x="319" y="438" width="3" height="23" fill="#c0c0c0"/>
<rect x="323" y="438" width="3" height="23" fill="#c0c0c0"/>
<rect x="327" y="438" width="3" height="24" fill="#c0c0c0"/>
<rect x="331" y="438" width="3" height="23" fill="#c0c0c0"/>
<rect x="335" y="438" width="3" height="22" fill="#c0c0c0"/>
<rect x="339" y="438" width="3" height="21" fill="#c0c0c0"/>
<rect x="343" y="438" width="3" height="23" fill="#c0c0c0"/>
<rect x="347" y="438" width="3" height="24" fill="#c0c0c0"/>
<rect x="351" y="438" width="3" height="26" fill="#c0c0c0"/>
<rect x="355" y="438" width="3" height="29" fill="#c0c0c0"/>
<rect x="359" y="438" width="3" height="32" fill="#c0c0c0"/>
<rect x="363" y="438" width="3" height="34" fill="#c0c0c0"/>
<rect x="367" y="438" width="3" height="33" fill="#c0c0c0"/>
<rect x="371" y="438" width="3" height="32" fill="#c0c0c0"/>
<rect x="375" y="438" width="3" height="30" fill="#c0c0c0"/>
<rect x="379" y="438" width="3" height="28" fill="#c0c0c0"/>
<rect x="383" y="438" width="3" height="27" fill="#c0c0c0"/>
<rect x="387" y="438" width="3" height="24" fill="#c0c0c0"/>
<rect x="391" y="438" width="3" height="23" fill="#c0c0c0"/>
<rect x="395" y="438" width="3" height="23" fill="#c0c0c0"/>
<rect x="399" y="438" width="3" height="21" fill="#c0c0c0"/>
<rect x="403" y="438" width="3" height="18" fill="#c0c0c0"/>
<rect x="407" y="438" width="3" height="16" fill="#c0c0c0"/>
<rect x="411" y="438" width="3" height="11" fill="#c0c0c0"/>
<rect x="415" y="438" width="3" height="5" fill="#c0c0c0"/>
<rect x="419" y="438" width="3" height="1" fill="#c0c0c0"/>
<rect x="423" y="434" width="3" height="4" fill="#c0c0c0"/>
<rect x="427" y="430" width="3" height="8" fill="#c0c0c0"/>
<rect x="431" y="426" width="3" height="12" fill="#c0c0c0"/>
<rect x="435" y="424" width="3" height="14" fill="#c0c0c0"/>
<rect x="439" y="424" width="3" height="14" fill="#c0c0c0"/>
<rect x="443" y="424" width="3" height="14" fill="#c0c0c0"/>
<rect x="447" y="423" width="3" height="15" fill="#c0c0c0"/>
<rect x="451" y="423" width="3" height="15" fill="#c0c0c0"/>
<rect x="455" y="422" width="3" height="16" fill="#c0c0c0"/>
<rect x="459" y="422" width="3" height="16" fill="#c0c0c0"/>
<rect x="463" y="423" width="3" height="15" fill="#c0c0c0"/>
<rect x="467" y="423" width="3" height="15" fill="#c0c0c0"/>
<rect x="471" y="423" width="3" height="15" fill="#c0c0c0"/>
<rect x="475" y="422" width="3" height="16" fill="#c0c0c0"/>
<rect x="479" y="422" width="3" height="16" fill="#c0c0c0"/>
<rect x="483" y="422" width="3" height="16" fill="#c0c0c0"/>
<rect x="487" y="423" width="3" height="15" fill="#c0c0c0"/>
<rect x="491" y="425" width="3" height="13" fill="#c0c0c0"/>
<rect x="495" y="426" width="3" height="12" fill="#c0c0c0"/>
<rect x="499" y="427" width="3" height="11" fill="#c0c0c0"/>
<rect x="503" y="426" width="3" height="12" fill="#c0c0c0"/>
<rect x="507" y="426" width="3" height="12" fill="#c0c0c0"/>
<rect x="511" y="427" width="3" height="11" fill="#c0c0c0"/>
<rect x="515" y="428" width="3" height="10" fill="#c0c0c0"/>
<rect x="519" y="429" width="3" height="9" fill="#c0c0c0"/>
<rect x="523" y="429" width="3" height="9" fill="#c0c0c0"/>
<rect x="527" y="425" width="3" height="13" fill="#c0c0c0"/>
<rect x="531" y="426" width="3" height="12" fill="#c0c0c0"/>
<rect x="535" y="429" width="3" height="9" fill="#c0c0c0"/>
<rect x="539" y="431" width="3" height="7" fill="#c0c0c0"/>
<rect x="543" y="433" width="3" height="5" fill="#c0c0c0"/>
<rect x="547" y="434" width="3" height="4" fill="#c0c0c0"/>
<rect x="551" y="435" width="3" height="3" fill="#c0c0c0"/>
<rect x="555" y="437" width="3" height="1" fill="#c0c0c0"/>
<rect x="559" y="436" width="3" height="2" fill="#c0c0c0"/>
<rect x="563" y="435" width="3" height="3" fill="#c0c0c0"/>
<rect x="567" y="434" width="3" height="4" fill="#c0c0c0"/>
<rect x="571" y="434" width="3" height="4" fill="#c0c0c0"/>
<rect x="575" y="434" width="3" height="4" fill="#c0c0c0"/>
<rect x="579" y="435" width="3" height="3" fill="#c0c0c0"/>
<rect x="583" y="435" width="3" height="3" fill="#c0c0c0"/>
<rect x="587" y="434" width="3" height="4" fill="#c0c0c0"/>
<rect x="591" y="433" width="3" height="5" fill="#c0c0c0"/>
<rect x="595" y="432" width="3" height="6" fill="#c0c0c0"/>
<rect x="599" y="431" width="3" height="7" fill="#c0c0c0"/>
<rect x="603" y="432" width="3" height="6" fill="#c0c0c0"/>
<rect x="607" y="434" width="3" height="4" fill="#c0c0c0"/>
<rect x="611" y="435" width="3" height="3" fill="#c0c0c0"/>
<rect x="615" y="435" width="3" height="3" fill="#c0c0c0"/>
<rect x="619" y="437" width="3" height="1" fill="#c0c0c0"/>
<rect x="623" y="438" width="3" height="1" fill="#c0c0c0"/>
<rect x="627" y="438" width="3" height="2" fill="#c0c0c0"/>
<rect x="631" y="438" width="3" height="4" fill="#c0c0c0"/>
<rect x="635" y="438" width="3" height="5" fill="#c0c0c0"/>
<rect x="639" y="438" width="3" height="8" fill="#c0c0c0"/>
<rect x="643" y="438" width="3" height="8" fill="#c0c0c0"/>
<rect x="647" y="438" width="3" height="7" fill="#c0c0c0"/>
<rect x="651" y="438" width="3" height="7" fill="#c0c0c0"/>
<rect x="655" y="438" width="3" height="7" fill="#c0c0c0"/>
<rect x="659" y="438" width="3" height="8" fill="#c0c0c0"/>
<rect x="663" y="438" width="3" height="9" fill="#c0c0c0"/>
<rect x="667" y="438" width="3" height="10" fill="#c0c0c0"/>
<rect x="671" y="438" width="3" height="11" fill="#c0c0c0"/>
<rect x="675" y="438" width="3" height="10" fill="#c0c0c0"/>
<rect x="679" y="438" width="3" height="7" fill="#c0c0c0"/>
<rect x="683" y="438" width="3" height="4" fill="#c0c0c0"/>
<rect x="687" y="438" width="3" height="1" fill="#c0c0c0"/>
<rect x="691" y="438" width="3" height="1" fill="#c0c0c0"/>
<rect x="695" y="438" width="3" height="1" fill="#c0c0c0"/>
<rect x="699" y="438" width="3" height="1" fill="#c0c0c0"/>
<rect x="703" y="438" width="3" height="1" fill="#c0c0c0"/>
<rect x="707" y="437" width="3" height="1" fill="#c0c0c0"/>
<rect x="711" y="436" width="3" height="2" fill="#c0c0c0"/>
<rect x="715" y="438" width="3" height="1" fill="#c0c0c0"/>
<rect x="719" y="438" width="3" height="3" fill="#c0c0c0"/>
<rect x="723" y="438" width="3" height="3" fill="#c0c0c0"/>
<rect x="727" y="438" width="3" height="4" fill="#c0c0c0"/>
<rect x="731" y="438" width="3" height="4" fill="#c0c0c0"/>
<rect x="735" y="438" width="3" height="4" fill="#c0c0c0"/>
<rect x="739" y="438" width="3" height="4" fill="#c0c0c0"/>
<rect x="743" y="438" width="3" height="4" fill="#c0c0c0"/>
<rect x="747" y="438" width="3" height="3" fill="#c0c0c0"/>
<rect x="751" y="438" width="3" height="6" fill="#c0c0c0"/>
<rect x="755" y="438" width="3" height="6" fill="#c0c0c0"/>
<rect x="759" y="438" width="3" height="7" fill="#c0c0c0"/>
<rect x="763" y="438" width="3" height="8" fill="#c0c0c0"/>
<rect x="767" y="438" width="3" height="14" fill="#c0c0c0"/>
<rect x="771" y="438" width="3" height="16" fill="#c0c0c0"/>
<rect x="775" y="438" width="3" height="18" fill="#c0c0c0"/>
<rect x="779" y="438" width="3" height="20" fill="#c0c0c0"/>
<rect x="783" y="438" width="3" height="22" fill="#c0c0c0"/>
<rect x="787" y="438" width="3" height="23" fill="#c0c0c0"/>
<rect x="791" y="438" width="3" height="23" fill="#c0c0c0"/>
<rect x="795" y="438" width="3" height="22" fill="#c0c0c0"/>
<rect x="799" y="438" width="3" height="20" fill="#c0c0c0"/>
<rect x="803" y="438" width="3" height="19" fill="#c0c0c0"/>
<rect x="807" y="438" width="3" height="18" fill="#c0c0c0"/>
<rect x="811" y="438" width="3" height="17" fill="#c0c0c0"/>
<rect x="815" y="438" width="3" height="16" fill="#c0c0c0"/>
<rect x="819" y="438" width="3" height="15" fill="#c0c0c0"/>
<rect x="823" y="438" width="3" height="15" fill="#c0c0c0"/>
<rect x="827" y="438" width="3" height="15" fill="#c0c0c0"/>
<rect x="831" y="438" width="3" height="14" fill="#c0c0c0"/>
<rect x="835" y="438" width="3" height="13" fill="#c0c0c0"/>
<rect x="839" y="438" width="3" height="13" fill="#c0c0c0"/>
<rect x="843" y="438" width="3" height="13" fill="#c0c0c0"/>
<rect x="847" y="438" width="3" height="12" fill="#c0c0c0"/>
<rect x="851" y="438" width="3" height="13" fill="#c0c0c0"/>
<rect x="855" y="438" width="3" height="13" fill="#c0c0c0"/>
<rect x="859" y="438" width="3" height="12" fill="#c0c0c0"/>
<rect x="863" y="438" width="3" height="11" fill="#c0c0c0"/>
<rect x="867" y="438" width="3" height="10" fill="#c0c0c0"/>
<rect x="871" y="438" width="3" height="8" fill="#c0c0c0"/>
<rect x="875" y="438" width="3" height="8" fill="#c0c0c0"/>
<rect x="879" y="438" width="3" height="6" fill="#c0c0c0"/>
<rect x="883" y="438" width="3" height="7" fill="#c0c0c0"/>
<rect x="887" y="438" width="3" height="8" fill="#c0c0c0"/>
<rect x="891" y="438" width="3" height="9" fill="#c0c0c0"/>
<rect x="895" y="438" width="3" height="9" fill="#c0c0c0"/>
<rect x="899" y="438" width="3" height="9" fill="#c0c0c0"/>
<rect x="903" y="438" width="3" height="9" fill="#c0c0c0"/>
<rect x="907" y="438" width="3" height="10" fill="#c0c0c0"/>
<rect x="911" y="438" width="3" height="12" fill="#c0c0c0"/>
<rect x="915" y="438" width="3" height="11" fill="#c0c0c0"/>
<rect x="919" y="438" width="3" height="10" fill="#c0c0c0"/>
<rect x="923" y="438" width="3" height="10" fill="#c0c0c0"/>
</g>
<path d="M218 414h8v1h-8zM210 415h8v1h-8zM226 415h4v1h-4zM206 416h4v1h-4zM230 416h3v1h-3zM203 417h3v1h-3zM233 417h2v1h-2zM201 418h2v1h-2zM235 418h2v1h-2zM199 419h2v1h-2zM237 419h2v1h-2zM197 420h2v1h-2zM239 420h2v1h-2zM194 421h3v1h-3zM241 421h2v1h-2zM191 422h3v1h-3zM243 422h2v1h-2zM482 422h8v1h-8zM189 423h2v1h-2zM245 423h2v1h-2zM466 423h16v1h-16zM490 423h8v1h-8zM158 424h4v1h-4zM186 424h3v1h-3zM247 424h2v1h-2zM459 424h7v1h-7zM498 424h12v1h-12zM151 425h7v1h-7zM162 425h8v1h-8zM178 425h8v1h-8zM249 425h2v1h-2zM457 425h2v1h-2zM510 425h4v1h-4zM149 426h2v1h-2zM170 426h8v1h-8zM251 426h2v1h-2zM455 426h2v1h-2zM514 426h8v1h-8zM146 427h3v1h-3zM253 427h1v1h-1zM453 427h2v1h-2zM522 427h16v1h-16zM142 428h4v1h-4zM254 428h2v1h-2zM451 428h2v1h-2zM538 428h4v1h-4zM139 429h3v1h-3zM256 429h1v1h-1zM449 429h2v1h-2zM542 429h8v1h-8zM137 430h2v1h-2zM257 430h1v1h-1zM448 430h1v1h-1zM550 430h4v1h-4zM135 431h2v1h-2zM258 431h2v1h-2zM446 431h2v1h-2zM554 431h4v1h-4zM133 432h2v1h-2zM260 432h1v1h-1zM445 432h1v1h-1zM558 432h4v1h-4zM132 433h1v1h-1zM261 433h1v1h-1zM444 433h1v1h-1zM562 433h4v1h-4zM602 433h16v1h-16zM130 434h2v1h-2zM262 434h2v1h-2zM442 434h2v1h-2zM566 434h8v1h-8zM590 434h12v1h-12zM618 434h8v1h-8zM129 435h1v1h-1zM264 435h1v1h-1zM441 435h1v1h-1zM574 435h16v1h-16zM626 435h4v1h-4zM127 436h2v1h-2zM265 436h1v1h-1zM440 436h1v1h-1zM630 436h4v1h-4zM125 437h2v1h-2zM266 437h2v1h-2zM439 437h1v1h-1zM634 437h3v1h-3zM123 438h2v1h-2zM268 438h1v1h-1zM438 438h1v1h-1zM637 438h2v1h-2zM714 438h12v1h-12zM121 439h2v1h-2zM269 439h1v1h-1zM437 439h1v1h-1zM639 439h3v1h-3zM710 439h4v1h-4zM726 439h8v1h-8zM120 440h1v1h-1zM270 440h2v1h-2zM436 440h1v1h-1zM642 440h4v1h-4zM707 440h3v1h-3zM734 440h8v1h-8zM118 441h2v1h-2zM272 441h1v1h-1zM434 441h2v1h-2zM646 441h3v1h-3zM705 441h2v1h-2zM742 441h8v1h-8zM117 442h1v1h-1zM273 442h1v1h-1zM433 442h1v1h-1zM649 442h2v1h-2zM702 442h3v1h-3zM750 442h8v1h-8zM115 443h2v1h-2zM274 443h2v1h-2zM432 443h1v1h-1zM651 443h7v1h-7zM698 443h4v1h-4zM758 443h8v1h-8zM113 444h2v1h-2zM276 444h1v1h-1zM431 444h1v1h-1zM658 444h4v1h-4zM694 444h4v1h-4zM766 444h3v1h-3zM111 445h2v1h-2zM277 445h2v1h-2zM430 445h1v1h-1zM662 445h4v1h-4zM690 445h4v1h-4zM769 445h2v1h-2zM109 446h2v1h-2zM279 446h2v1h-2zM429 446h1v1h-1zM666 446h8v1h-8zM682 446h8v1h-8zM771 446h3v1h-3zM894 446h16v1h-16zM108 447h1v1h-1zM281 447h2v1h-2zM428 447h1v1h-1zM674 447h8v1h-8zM774 447h3v1h-3zM886 447h8v1h-8zM910 447h8v1h-8zM106 448h2v1h-2zM283 448h2v1h-2zM427 448h1v1h-1zM777 448h2v1h-2zM878 448h8v1h-8zM918 448h7v1h-7zM105 449h1v1h-1zM285 449h2v1h-2zM426 449h1v1h-1zM779 449h2v1h-2zM874 449h4v1h-4zM42 450h8v1h-8zM103 450h2v1h-2zM287 450h3v1h-3zM425 450h1v1h-1zM781 450h2v1h-2zM866 450h8v1h-8zM34 451h8v1h-8zM50 451h4v1h-4zM101 451h2v1h-2zM290 451h4v1h-4zM424 451h1v1h-1zM783 451h2v1h-2zM858 451h8v1h-8zM26 452h8v1h-8zM54 452h4v1h-4zM99 452h2v1h-2zM294 452h3v1h-3zM422 452h2v1h-2zM785 452h2v1h-2zM846 452h12v1h-12zM23 453h3v1h-3zM58 453h4v1h-4zM97 453h2v1h-2zM297 453h2v1h-2zM421 453h1v1h-1zM787 453h2v1h-2zM838 453h8v1h-8zM21 454h2v1h-2zM62 454h4v1h-4zM95 454h2v1h-2zM299 454h3v1h-3zM420 454h1v1h-1zM789 454h2v1h-2zM834 454h4v1h-4zM18 455h3v1h-3zM66 455h4v1h-4zM93 455h2v1h-2zM302 455h3v1h-3zM418 455h2v1h-2zM791 455h2v1h-2zM830 455h4v1h-4zM15 456h3v1h-3zM70 456h4v1h-4zM90 456h3v1h-3zM305 456h2v1h-2zM417 456h1v1h-1zM793 456h2v1h-2zM826 456h4v1h-4zM13 457h2v1h-2zM74 457h16v1h-16zM307 457h7v1h-7zM415 457h2v1h-2zM795 457h3v1h-3zM818 457h8v1h-8zM11 458h2v1h-2zM314 458h4v1h-4zM413 458h2v1h-2zM798 458h4v1h-4zM814 458h4v1h-4zM9 459h2v1h-2zM318 459h4v1h-4zM411 459h2v1h-2zM802 459h12v1h-12zM6 460h3v1h-3zM322 460h4v1h-4zM409 460h2v1h-2zM4 461h2v1h-2zM326 461h8v1h-8zM338 461h16v1h-16zM407 461h2v1h-2zM334 462h4v1h-4zM354 462h4v1h-4zM405 462h2v1h-2zM358 463h4v1h-4zM403 463h2v1h-2zM362 464h4v1h-4zM401 464h2v1h-2zM366 465h4v1h-4zM398 465h3v1h-3zM370 466h4v1h-4zM394 466h4v1h-4zM374 467h4v1h-4zM390 467h4v1h-4zM378 468h12v1h-12z" fill="#ff0000" shape-rendering="crispEdges"/>
<text transform="translate(7.84,419) scale(0.9694,1)" font-size="9.8px" fill="#000" stroke="#000" stroke-width="0.2">MACD(12,26,9)</text>
<text transform="translate(76.44,419) scale(0.9304,1)" font-size="9.8px" fill="#000" stroke="#000" stroke-width="0.2">-0.008569</text>
<text transform="translate(120.74,419) scale(0.9304,1)" font-size="9.8px" fill="#000" stroke="#000" stroke-width="0.2">-0.008723</text>
<rect x="1167" y="408" width="1" height="1" fill="#000"/>
<text transform="translate(1169.93,417) scale(0.9388,1)" font-size="9.8px" fill="#000" stroke="#000" stroke-width="0.2">0.02607</text>
<rect x="1167" y="438" width="1" height="1" fill="#000"/>
<text transform="translate(1169.93,442) scale(0.9388,1)" font-size="9.8px" fill="#000" stroke="#000" stroke-width="0.2">0.00</text>
<rect x="1167" y="474" width="1" height="1" fill="#000"/>
<text transform="translate(1169.63,472) scale(0.9388,1)" font-size="9.8px" fill="#000" stroke="#000" stroke-width="0.2">-0.031872</text>
<line x1="5" y1="499.5" x2="1166" y2="499.5" stroke="#c0c0c0" stroke-dasharray="3,3"/>
<line x1="5" y1="527.5" x2="1166" y2="527.5" stroke="#c0c0c0" stroke-dasharray="3,3"/>
<path d="M128 500h1v1h-1zM190 500h3v1h-3zM127 501h1v1h-1zM129 501h1v1h-1zM188 501h2v1h-2zM193 501h2v1h-2zM427 501h6v1h-6zM528 501h1v1h-1zM126 502h1v1h-1zM129 502h1v1h-1zM187 502h1v1h-1zM195 502h2v1h-2zM425 502h2v1h-2zM433 502h2v1h-2zM476 502h1v1h-1zM528 502h1v1h-1zM126 503h1v1h-1zM130 503h1v1h-1zM180 503h1v1h-1zM186 503h1v1h-1zM197 503h2v1h-2zM422 503h3v1h-3zM435 503h2v1h-2zM475 503h1v1h-1zM477 503h1v1h-1zM527 503h1v1h-1zM529 503h1v1h-1zM125 504h1v1h-1zM130 504h1v1h-1zM178 504h2v1h-2zM181 504h2v1h-2zM185 504h1v1h-1zM199 504h6v1h-6zM418 504h4v1h-4zM437 504h1v1h-1zM454 504h4v1h-4zM468 504h1v1h-1zM474 504h1v1h-1zM478 504h2v1h-2zM504 504h1v1h-1zM527 504h1v1h-1zM529 504h1v1h-1zM124 505h1v1h-1zM131 505h1v1h-1zM177 505h1v1h-1zM183 505h2v1h-2zM205 505h1v1h-1zM416 505h2v1h-2zM438 505h2v1h-2zM450 505h4v1h-4zM458 505h3v1h-3zM467 505h1v1h-1zM469 505h2v1h-2zM473 505h1v1h-1zM480 505h1v1h-1zM503 505h1v1h-1zM505 505h1v1h-1zM526 505h1v1h-1zM530 505h1v1h-1zM100 506h1v1h-1zM122 506h2v1h-2zM131 506h1v1h-1zM174 506h3v1h-3zM205 506h1v1h-1zM214 506h4v1h-4zM414 506h2v1h-2zM440 506h2v1h-2zM446 506h4v1h-4zM461 506h1v1h-1zM466 506h1v1h-1zM471 506h2v1h-2zM481 506h2v1h-2zM486 506h3v1h-3zM502 506h1v1h-1zM506 506h2v1h-2zM526 506h1v1h-1zM530 506h1v1h-1zM100 507h2v1h-2zM121 507h1v1h-1zM132 507h1v1h-1zM171 507h3v1h-3zM206 507h1v1h-1zM212 507h2v1h-2zM218 507h3v1h-3zM413 507h1v1h-1zM442 507h4v1h-4zM462 507h2v1h-2zM465 507h1v1h-1zM483 507h3v1h-3zM489 507h1v1h-1zM502 507h1v1h-1zM508 507h1v1h-1zM525 507h1v1h-1zM531 507h1v1h-1zM596 507h5v1h-5zM684 507h5v1h-5zM99 508h1v1h-1zM102 508h2v1h-2zM119 508h2v1h-2zM133 508h1v1h-1zM169 508h2v1h-2zM207 508h1v1h-1zM210 508h2v1h-2zM221 508h2v1h-2zM412 508h1v1h-1zM464 508h1v1h-1zM489 508h1v1h-1zM501 508h1v1h-1zM509 508h1v1h-1zM525 508h1v1h-1zM531 508h1v1h-1zM588 508h1v1h-1zM594 508h2v1h-2zM601 508h1v1h-1zM682 508h2v1h-2zM689 508h1v1h-1zM99 509h1v1h-1zM104 509h1v1h-1zM117 509h2v1h-2zM134 509h2v1h-2zM160 509h9v1h-9zM207 509h1v1h-1zM209 509h1v1h-1zM223 509h3v1h-3zM411 509h1v1h-1zM490 509h1v1h-1zM500 509h1v1h-1zM509 509h1v1h-1zM523 509h2v1h-2zM532 509h1v1h-1zM566 509h3v1h-3zM587 509h1v1h-1zM589 509h2v1h-2zM593 509h1v1h-1zM601 509h1v1h-1zM681 509h1v1h-1zM690 509h1v1h-1zM711 509h2v1h-2zM16 510h1v1h-1zM98 510h1v1h-1zM105 510h1v1h-1zM114 510h3v1h-3zM136 510h1v1h-1zM144 510h2v1h-2zM150 510h3v1h-3zM158 510h2v1h-2zM208 510h1v1h-1zM226 510h3v1h-3zM411 510h1v1h-1zM491 510h1v1h-1zM498 510h2v1h-2zM510 510h1v1h-1zM521 510h2v1h-2zM532 510h1v1h-1zM562 510h4v1h-4zM569 510h1v1h-1zM586 510h1v1h-1zM591 510h2v1h-2zM602 510h1v1h-1zM680 510h1v1h-1zM691 510h1v1h-1zM709 510h2v1h-2zM713 510h1v1h-1zM4 511h1v1h-1zM16 511h1v1h-1zM98 511h1v1h-1zM106 511h1v1h-1zM111 511h3v1h-3zM137 511h1v1h-1zM142 511h2v1h-2zM146 511h4v1h-4zM153 511h2v1h-2zM157 511h1v1h-1zM229 511h1v1h-1zM410 511h1v1h-1zM491 511h1v1h-1zM497 511h1v1h-1zM511 511h1v1h-1zM515 511h6v1h-6zM533 511h1v1h-1zM560 511h2v1h-2zM570 511h2v1h-2zM585 511h1v1h-1zM603 511h1v1h-1zM679 511h1v1h-1zM692 511h1v1h-1zM708 511h1v1h-1zM713 511h1v1h-1zM5 512h1v1h-1zM15 512h1v1h-1zM17 512h1v1h-1zM80 512h10v1h-10zM98 512h1v1h-1zM107 512h1v1h-1zM109 512h2v1h-2zM138 512h2v1h-2zM141 512h1v1h-1zM155 512h2v1h-2zM230 512h2v1h-2zM410 512h1v1h-1zM492 512h5v1h-5zM511 512h1v1h-1zM513 512h2v1h-2zM533 512h1v1h-1zM559 512h1v1h-1zM572 512h13v1h-13zM603 512h1v1h-1zM616 512h1v1h-1zM678 512h1v1h-1zM693 512h2v1h-2zM706 512h2v1h-2zM714 512h1v1h-1zM6 513h1v1h-1zM15 513h1v1h-1zM17 513h1v1h-1zM79 513h1v1h-1zM90 513h3v1h-3zM97 513h1v1h-1zM108 513h1v1h-1zM140 513h1v1h-1zM232 513h1v1h-1zM409 513h1v1h-1zM512 513h1v1h-1zM534 513h1v1h-1zM558 513h1v1h-1zM604 513h1v1h-1zM614 513h2v1h-2zM617 513h1v1h-1zM678 513h1v1h-1zM695 513h7v1h-7zM705 513h1v1h-1zM714 513h1v1h-1zM744 513h2v1h-2zM880 513h1v1h-1zM6 514h1v1h-1zM15 514h1v1h-1zM18 514h1v1h-1zM79 514h1v1h-1zM93 514h1v1h-1zM97 514h1v1h-1zM233 514h2v1h-2zM238 514h3v1h-3zM404 514h2v1h-2zM409 514h1v1h-1zM535 514h1v1h-1zM539 514h3v1h-3zM546 514h4v1h-4zM557 514h1v1h-1zM605 514h1v1h-1zM613 514h1v1h-1zM618 514h1v1h-1zM677 514h1v1h-1zM702 514h3v1h-3zM715 514h1v1h-1zM731 514h3v1h-3zM743 514h1v1h-1zM746 514h3v1h-3zM870 514h3v1h-3zM878 514h2v1h-2zM881 514h1v1h-1zM7 515h1v1h-1zM14 515h1v1h-1zM18 515h1v1h-1zM78 515h1v1h-1zM94 515h3v1h-3zM235 515h3v1h-3zM241 515h1v1h-1zM403 515h1v1h-1zM406 515h3v1h-3zM535 515h1v1h-1zM537 515h2v1h-2zM542 515h4v1h-4zM550 515h7v1h-7zM606 515h2v1h-2zM610 515h3v1h-3zM618 515h1v1h-1zM648 515h2v1h-2zM676 515h1v1h-1zM715 515h1v1h-1zM729 515h2v1h-2zM734 515h3v1h-3zM742 515h1v1h-1zM749 515h1v1h-1zM866 515h4v1h-4zM873 515h2v1h-2zM877 515h1v1h-1zM882 515h1v1h-1zM916 515h1v1h-1zM8 516h1v1h-1zM14 516h1v1h-1zM19 516h1v1h-1zM40 516h1v1h-1zM77 516h1v1h-1zM96 516h1v1h-1zM242 516h1v1h-1zM402 516h1v1h-1zM536 516h1v1h-1zM608 516h2v1h-2zM619 516h1v1h-1zM622 516h3v1h-3zM647 516h1v1h-1zM650 516h3v1h-3zM676 516h1v1h-1zM716 516h1v1h-1zM724 516h5v1h-5zM737 516h2v1h-2zM741 516h1v1h-1zM749 516h1v1h-1zM800 516h1v1h-1zM832 516h1v1h-1zM860 516h6v1h-6zM875 516h2v1h-2zM883 516h1v1h-1zM916 516h3v1h-3zM9 517h1v1h-1zM13 517h1v1h-1zM19 517h1v1h-1zM28 517h1v1h-1zM39 517h1v1h-1zM41 517h2v1h-2zM77 517h1v1h-1zM242 517h1v1h-1zM401 517h1v1h-1zM620 517h2v1h-2zM625 517h1v1h-1zM646 517h1v1h-1zM653 517h2v1h-2zM675 517h1v1h-1zM716 517h1v1h-1zM723 517h1v1h-1zM739 517h2v1h-2zM750 517h1v1h-1zM799 517h1v1h-1zM801 517h1v1h-1zM807 517h2v1h-2zM818 517h3v1h-3zM831 517h1v1h-1zM833 517h2v1h-2zM848 517h1v1h-1zM858 517h2v1h-2zM884 517h1v1h-1zM915 517h1v1h-1zM919 517h3v1h-3zM10 518h1v1h-1zM13 518h1v1h-1zM20 518h1v1h-1zM27 518h1v1h-1zM29 518h2v1h-2zM38 518h1v1h-1zM43 518h2v1h-2zM72 518h5v1h-5zM243 518h1v1h-1zM288 518h5v1h-5zM388 518h1v1h-1zM400 518h1v1h-1zM626 518h2v1h-2zM645 518h1v1h-1zM655 518h2v1h-2zM675 518h1v1h-1zM717 518h1v1h-1zM722 518h1v1h-1zM751 518h1v1h-1zM755 518h7v1h-7zM799 518h1v1h-1zM802 518h2v1h-2zM805 518h2v1h-2zM809 518h2v1h-2zM814 518h4v1h-4zM821 518h1v1h-1zM830 518h1v1h-1zM835 518h2v1h-2zM846 518h2v1h-2zM849 518h1v1h-1zM857 518h1v1h-1zM885 518h1v1h-1zM915 518h1v1h-1zM922 518h3v1h-3zM10 519h1v1h-1zM13 519h1v1h-1zM20 519h1v1h-1zM27 519h1v1h-1zM31 519h3v1h-3zM37 519h1v1h-1zM45 519h1v1h-1zM72 519h1v1h-1zM244 519h2v1h-2zM287 519h1v1h-1zM293 519h1v1h-1zM312 519h2v1h-2zM332 519h1v1h-1zM376 519h1v1h-1zM386 519h2v1h-2zM389 519h2v1h-2zM398 519h2v1h-2zM628 519h6v1h-6zM644 519h1v1h-1zM657 519h2v1h-2zM674 519h1v1h-1zM718 519h1v1h-1zM722 519h1v1h-1zM751 519h1v1h-1zM753 519h2v1h-2zM762 519h3v1h-3zM798 519h1v1h-1zM804 519h1v1h-1zM811 519h3v1h-3zM822 519h2v1h-2zM829 519h1v1h-1zM837 519h2v1h-2zM845 519h1v1h-1zM850 519h1v1h-1zM855 519h2v1h-2zM886 519h1v1h-1zM898 519h7v1h-7zM915 519h1v1h-1zM11 520h2v1h-2zM21 520h1v1h-1zM26 520h1v1h-1zM34 520h3v1h-3zM46 520h2v1h-2zM71 520h1v1h-1zM246 520h3v1h-3zM286 520h1v1h-1zM294 520h1v1h-1zM311 520h1v1h-1zM314 520h3v1h-3zM331 520h1v1h-1zM333 520h2v1h-2zM338 520h3v1h-3zM375 520h1v1h-1zM377 520h2v1h-2zM385 520h1v1h-1zM391 520h3v1h-3zM397 520h1v1h-1zM634 520h3v1h-3zM643 520h1v1h-1zM659 520h7v1h-7zM674 520h1v1h-1zM719 520h1v1h-1zM721 520h1v1h-1zM752 520h1v1h-1zM764 520h1v1h-1zM797 520h1v1h-1zM824 520h5v1h-5zM839 520h6v1h-6zM851 520h1v1h-1zM853 520h2v1h-2zM887 520h1v1h-1zM890 520h8v1h-8zM905 520h1v1h-1zM914 520h1v1h-1zM12 521h1v1h-1zM22 521h1v1h-1zM25 521h1v1h-1zM48 521h1v1h-1zM71 521h1v1h-1zM249 521h2v1h-2zM254 521h4v1h-4zM286 521h1v1h-1zM295 521h1v1h-1zM311 521h1v1h-1zM317 521h2v1h-2zM322 521h3v1h-3zM330 521h1v1h-1zM335 521h3v1h-3zM341 521h1v1h-1zM374 521h1v1h-1zM379 521h6v1h-6zM394 521h3v1h-3zM637 521h1v1h-1zM642 521h1v1h-1zM666 521h3v1h-3zM673 521h1v1h-1zM720 521h1v1h-1zM765 521h1v1h-1zM792 521h2v1h-2zM797 521h1v1h-1zM852 521h1v1h-1zM888 521h2v1h-2zM906 521h2v1h-2zM914 521h1v1h-1zM23 522h1v1h-1zM25 522h1v1h-1zM49 522h1v1h-1zM56 522h1v1h-1zM70 522h1v1h-1zM251 522h3v1h-3zM258 522h3v1h-3zM268 522h1v1h-1zM280 522h2v1h-2zM285 522h1v1h-1zM296 522h1v1h-1zM310 522h1v1h-1zM319 522h3v1h-3zM325 522h1v1h-1zM330 522h1v1h-1zM342 522h1v1h-1zM374 522h1v1h-1zM638 522h2v1h-2zM641 522h1v1h-1zM669 522h2v1h-2zM673 522h1v1h-1zM765 522h1v1h-1zM791 522h1v1h-1zM794 522h3v1h-3zM908 522h1v1h-1zM913 522h1v1h-1zM24 523h1v1h-1zM50 523h1v1h-1zM54 523h2v1h-2zM57 523h2v1h-2zM62 523h3v1h-3zM70 523h1v1h-1zM261 523h1v1h-1zM266 523h2v1h-2zM269 523h2v1h-2zM278 523h2v1h-2zM282 523h3v1h-3zM297 523h1v1h-1zM310 523h1v1h-1zM326 523h2v1h-2zM329 523h1v1h-1zM343 523h1v1h-1zM373 523h1v1h-1zM640 523h1v1h-1zM671 523h2v1h-2zM766 523h1v1h-1zM772 523h6v1h-6zM790 523h1v1h-1zM909 523h1v1h-1zM913 523h1v1h-1zM51 524h1v1h-1zM53 524h1v1h-1zM59 524h3v1h-3zM65 524h1v1h-1zM69 524h1v1h-1zM262 524h2v1h-2zM265 524h1v1h-1zM271 524h3v1h-3zM277 524h1v1h-1zM297 524h1v1h-1zM309 524h1v1h-1zM328 524h1v1h-1zM344 524h5v1h-5zM368 524h5v1h-5zM766 524h1v1h-1zM771 524h1v1h-1zM778 524h4v1h-4zM789 524h1v1h-1zM910 524h1v1h-1zM913 524h1v1h-1zM52 525h1v1h-1zM66 525h2v1h-2zM69 525h1v1h-1zM264 525h1v1h-1zM274 525h3v1h-3zM298 525h1v1h-1zM309 525h1v1h-1zM349 525h1v1h-1zM367 525h1v1h-1zM767 525h1v1h-1zM770 525h1v1h-1zM782 525h7v1h-7zM911 525h2v1h-2zM68 526h1v1h-1zM298 526h1v1h-1zM307 526h2v1h-2zM350 526h2v1h-2zM366 526h1v1h-1zM767 526h1v1h-1zM770 526h1v1h-1zM912 526h1v1h-1zM299 527h1v1h-1zM305 527h2v1h-2zM352 527h1v1h-1zM365 527h1v1h-1zM768 527h2v1h-2zM299 528h1v1h-1zM303 528h2v1h-2zM353 528h2v1h-2zM364 528h1v1h-1zM768 528h1v1h-1zM300 529h3v1h-3zM355 529h2v1h-2zM362 529h2v1h-2zM300 530h1v1h-1zM357 530h2v1h-2zM361 530h1v1h-1zM359 531h2v1h-2z" fill="#1e90ff" shape-rendering="crispEdges"/>
<text transform="translate(7.84,490) scale(0.9740,1)" font-size="9.8px" fill="#000" stroke="#000" stroke-width="0.2">RSI(14)</text>
<text transform="translate(42.82,490) scale(0.9342,1)" font-size="9.8px" fill="#000" stroke="#000" stroke-width="0.2">43.4516</text>
<rect x="1167" y="479" width="1" height="1" fill="#000"/>
<text transform="translate(1169.56,488) scale(0.9388,1)" font-size="9.8px" fill="#000" stroke="#000" stroke-width="0.2">100</text>
<rect x="1167" y="499" width="1" height="1" fill="#000"/>
<text transform="translate(1169.84,503) scale(0.9388,1)" font-size="9.8px" fill="#000" stroke="#000" stroke-width="0.2">70</text>
<rect x="1167" y="527" width="1" height="1" fill="#000"/>
<text transform="translate(1169.93,531) scale(0.9388,1)" font-size="9.8px" fill="#000" stroke="#000" stroke-width="0.2">30</text>
<rect x="1167" y="548" width="1" height="1" fill="#000"/>
<text transform="translate(1169.93,546) scale(0.9388,1)" font-size="9.8px" fill="#000" stroke="#000" stroke-width="0.2">0</text>
<rect x="4" y="550" width="1" height="3" fill="#000"/>
<text transform="translate(2.53,562) scale(0.9541,1)" font-size="9.8px" fill="#000" stroke="#000" stroke-width="0.2">22 Jan 2021</text>
<rect x="68" y="550" width="1" height="3" fill="#000"/>
<text transform="translate(66.25,562) scale(0.9541,1)" font-size="9.8px" fill="#000" stroke="#000" stroke-width="0.2">15 Feb 2021</text>
<rect x="132" y="550" width="1" height="3" fill="#000"/>
<text transform="translate(130.53,562) scale(0.9541,1)" font-size="9.8px" fill="#000" stroke="#000" stroke-width="0.2">9 Mar 2021</text>
<rect x="196" y="550" width="1" height="3" fill="#000"/>
<text transform="translate(194.63,562) scale(0.9541,1)" font-size="9.8px" fill="#000" stroke="#000" stroke-width="0.2">31 Mar 2021</text>
<rect x="260" y="550" width="1" height="3" fill="#000"/>
<text transform="translate(258.53,562) scale(0.9541,1)" font-size="9.8px" fill="#000" stroke="#000" stroke-width="0.2">23 Apr 2021</text>
<rect x="324" y="550" width="1" height="3" fill="#000"/>
<text transform="translate(322.25,562) scale(0.9541,1)" font-size="9.8px" fill="#000" stroke="#000" stroke-width="0.2">17 May 2021</text>
<rect x="388" y="550" width="1" height="3" fill="#000"/>
<text transform="translate(386.63,562) scale(0.9541,1)" font-size="9.8px" fill="#000" stroke="#000" stroke-width="0.2">8 Jun 2021</text>
<rect x="452" y="550" width="1" height="3" fill="#000"/>
<text transform="translate(450.63,562) scale(0.9541,1)" font-size="9.8px" fill="#000" stroke="#000" stroke-width="0.2">30 Jun 2021</text>
<rect x="516" y="550" width="1" height="3" fill="#000"/>
<text transform="translate(514.53,562) scale(0.9541,1)" font-size="9.8px" fill="#000" stroke="#000" stroke-width="0.2">22 Jul 2021</text>
<rect x="580" y="550" width="1" height="3" fill="#000"/>
<text transform="translate(578.25,562) scale(0.9541,1)" font-size="9.8px" fill="#000" stroke="#000" stroke-width="0.2">13 Aug 2021</text>
<rect x="644" y="550" width="1" height="3" fill="#000"/>
<text transform="translate(642.53,562) scale(0.9541,1)" font-size="9.8px" fill="#000" stroke="#000" stroke-width="0.2">6 Sep 2021</text>
<rect x="708" y="550" width="1" height="3" fill="#000"/>
<text transform="translate(706.53,562) scale(0.9541,1)" font-size="9.8px" fill="#000" stroke="#000" stroke-width="0.2">28 Sep 2021</text>
<rect x="772" y="550" width="1" height="3" fill="#000"/>
<text transform="translate(770.53,562) scale(0.9541,1)" font-size="9.8px" fill="#000" stroke="#000" stroke-width="0.2">20 Oct 2021</text>
<rect x="836" y="550" width="1" height="3" fill="#000"/>
<text transform="translate(834.25,562) scale(0.9541,1)" font-size="9.8px" fill="#000" stroke="#000" stroke-width="0.2">11 Nov 2021</text>
<rect x="900" y="550" width="1" height="3" fill="#000"/>
<text transform="translate(898.63,562) scale(0.9541,1)" font-size="9.8px" fill="#000" stroke="#000" stroke-width="0.2">3 Dec 2021</text>
<path d="M7 36 L10.5 32.5 L14 36 Z" fill="#000"/>
<text transform="translate(18.73,37) scale(0.9798,1)" font-size="9.8px" fill="#000" stroke="#000" stroke-width="0.2">USDCNH-,Daily</text>
<text transform="translate(93.53,37) scale(0.9508,1)" font-size="9.8px" fill="#000" stroke="#000" stroke-width="0.2">6.37403</text>
<text transform="translate(129.53,37) scale(0.9508,1)" font-size="9.8px" fill="#000" stroke="#000" stroke-width="0.2">6.37452</text>
<text transform="translate(165.53,37) scale(0.9508,1)" font-size="9.8px" fill="#000" stroke="#000" stroke-width="0.2">6.36288</text>
<text transform="translate(201.53,37) scale(0.9508,1)" font-size="9.8px" fill="#000" stroke="#000" stroke-width="0.2">6.36543</text>
<defs>
<linearGradient id="gu" x1="0" y1="0" x2="0" y2="1"><stop offset="0" stop-color="#5c5cfa"/><stop offset="1" stop-color="#3a3ae4"/></linearGradient>
<linearGradient id="gl" x1="0" y1="0" x2="0" y2="1"><stop offset="0" stop-color="#3636e0"/><stop offset="1" stop-color="#0404a8"/></linearGradient>
<linearGradient id="gb1" x1="0" y1="0" x2="0" y2="1"><stop offset="0" stop-color="#f3f3f3"/><stop offset="1" stop-color="#e9e9e9"/></linearGradient>
<linearGradient id="gb2" x1="0" y1="0" x2="0" y2="1"><stop offset="0" stop-color="#dcdcdc"/><stop offset="1" stop-color="#d2d2d2"/></linearGradient>
<pattern id="chk" width="2" height="2" patternUnits="userSpaceOnUse"><rect width="2" height="2" fill="#f0f0f0"/><rect width="1" height="1" fill="#fafafa"/><rect x="1" y="1" width="1" height="1" fill="#fafafa"/></pattern>
</defs>
<rect x="5" y="43" width="223" height="61" fill="#fff"/>
<g shape-rendering="crispEdges">
<rect x="7" y="45" width="52" height="24" fill="url(#gu)"/>
<rect x="7" y="69" width="109" height="33" fill="url(#gl)"/>
<path d="M7.5 101.5 V45.5 H58.5 V69.5 H115.5 V101.5 Z" fill="none" stroke="#0000a0"/>
<rect x="11" y="68" width="44" height="1" fill="#00007a"/><rect x="11" y="69" width="44" height="1" fill="#7c7cff"/>
<rect x="174" y="45" width="52" height="24" fill="url(#gu)"/>
<rect x="118" y="69" width="108" height="33" fill="url(#gl)"/>
<path d="M225.5 101.5 V45.5 H174.5 V69.5 H118.5 V101.5 Z" fill="none" stroke="#0000a0"/>
<rect x="178" y="68" width="44" height="1" fill="#00007a"/><rect x="178" y="69" width="44" height="1" fill="#7c7cff"/>
<rect x="61.5" y="45.5" width="110" height="21" fill="#fff" stroke="#acacb4"/>
<rect x="82" y="46" width="1" height="20" fill="#acacb4"/><rect x="150" y="46" width="1" height="20" fill="#acacb4"/>
<rect x="63" y="47" width="18" height="6" fill="url(#gb1)"/><rect x="63" y="53" width="18" height="12" fill="url(#gb2)"/>
<rect x="152" y="47" width="18" height="6" fill="url(#gb1)"/><rect x="152" y="53" width="18" height="12" fill="url(#gb2)"/>
<path d="M69 54 H74 V55 H73 V56 H72 V57 H71 V56 H70 V55 H69 Z" fill="#4a62c4"/>
<path d="M160 54 H161 V55 H162 V56 H163 V57 H158 V56 H159 V55 H160 Z" fill="#4a62c4"/>
</g>
<text transform="translate(123.00,60) scale(0.9659,1)" font-size="12.9px" fill="#000">3.00</text>
<text transform="translate(19.16,61) scale(0.8312,1)" font-size="13px" fill="#e6e6ff">SELL</text>
<text transform="translate(186.64,61) scale(0.9231,1)" font-size="13px" fill="#e6e6ff">BUY</text>
<text transform="translate(26.59,97) scale(1.1021,1)" font-size="11.5px" font-weight="bold" fill="#fff" stroke="#fff" stroke-width="0.2">6.36</text>
<text transform="translate(55.26,97) scale(0.8844,1)" font-size="35px" fill="#fff">54</text>
<text transform="translate(94.66,81) scale(1.0261,1)" font-size="11.5px" font-weight="bold" fill="#fff" stroke="#fff" stroke-width="0.2">3</text>
<text transform="translate(136.91,97) scale(1.0742,1)" font-size="11.5px" font-weight="bold" fill="#fff" stroke="#fff" stroke-width="0.2">6.36</text>
<text transform="translate(164.90,97) scale(0.9160,1)" font-size="35px" fill="#fff">72</text>
<text transform="translate(204.00,81) scale(1.2951,1)" font-size="11.5px" font-weight="bold" fill="#fff" stroke="#fff" stroke-width="0.2">7</text>
<rect x="1" y="570" width="1208" height="1" fill="#e3e3e3"/>
<rect x="0" y="572" width="1209" height="1" fill="#000"/>
<rect x="0" y="573" width="1" height="18" fill="#696969"/>
<rect x="1" y="573" width="1" height="18" fill="#ffffff"/>
<rect x="0" y="592" width="1209" height="1" fill="#fdfdfd"/>
<rect x="0" y="593" width="1209" height="2" fill="#e9e9e9"/>
<rect x="525" y="572" width="112" height="19" fill="#fff"/>
<rect x="525" y="572" width="1" height="19" fill="#000"/><rect x="636" y="572" width="1" height="19" fill="#000"/><rect x="525" y="590" width="112" height="1" fill="#000"/>
<text transform="translate(15.20,587) scale(0.9741,1)" font-size="12.8px" fill="#6d6d6d" stroke="#6d6d6d" stroke-width="0.2">USDX,Weekly</text>
<text transform="translate(115.74,587) scale(0.9413,1)" font-size="12.8px" fill="#6d6d6d" stroke="#6d6d6d" stroke-width="0.2">EURUSD-,Daily</text>
<text transform="translate(223.30,587) scale(0.9572,1)" font-size="12.8px" fill="#6d6d6d" stroke="#6d6d6d" stroke-width="0.2">AUDUSD-,Daily</text>
<text transform="translate(332.54,587) scale(0.9388,1)" font-size="12.8px" fill="#6d6d6d" stroke="#6d6d6d" stroke-width="0.2">USDCHF-,H4</text>
<text transform="translate(427.11,587) scale(0.9626,1)" font-size="12.8px" fill="#6d6d6d" stroke="#6d6d6d" stroke-width="0.2">USDCAD-,Daily</text>
<text transform="translate(536.30,587) scale(0.9746,1)" font-size="12.8px" fill="#000" stroke="#000" stroke-width="0.2">USDCNH-,Daily</text>
<text transform="translate(647.73,587) scale(0.9602,1)" font-size="12.8px" fill="#6d6d6d" stroke="#6d6d6d" stroke-width="0.2">XAUUSD-,H1</text>
<text transform="translate(743.06,587) scale(1.0115,1)" font-size="12.8px" fill="#6d6d6d" stroke="#6d6d6d" stroke-width="0.2">UKOil-,Daily</text>
<text transform="translate(836.20,587) scale(0.9762,1)" font-size="12.8px" fill="#6d6d6d" stroke="#6d6d6d" stroke-width="0.2">DJ30-,Daily</text>
<text transform="translate(923.48,587) scale(0.9968,1)" font-size="12.8px" fill="#6d6d6d" stroke="#6d6d6d" stroke-width="0.2">UK100-,H1</text>
<rect x="105" y="576" width="1" height="13" fill="#808080"/>
<rect x="213" y="576" width="1" height="13" fill="#808080"/>
<rect x="321" y="576" width="1" height="13" fill="#808080"/>
<rect x="417" y="576" width="1" height="13" fill="#808080"/>
<rect x="732" y="576" width="1" height="13" fill="#808080"/>
<rect x="825" y="576" width="1" height="13" fill="#808080"/>
<rect x="913" y="576" width="1" height="13" fill="#808080"/>
<rect x="997" y="576" width="1" height="13" fill="#808080"/>
<g shape-rendering="crispEdges" fill="#8c8c8c"><rect x="1184" y="578" width="1" height="7"/><rect x="1183" y="579" width="1" height="5"/><rect x="1182" y="580" width="1" height="3"/><rect x="1201" y="578" width="1" height="7"/><rect x="1202" y="579" width="1" height="5"/><rect x="1203" y="580" width="1" height="3"/></g>
</svg>
</body></html>
